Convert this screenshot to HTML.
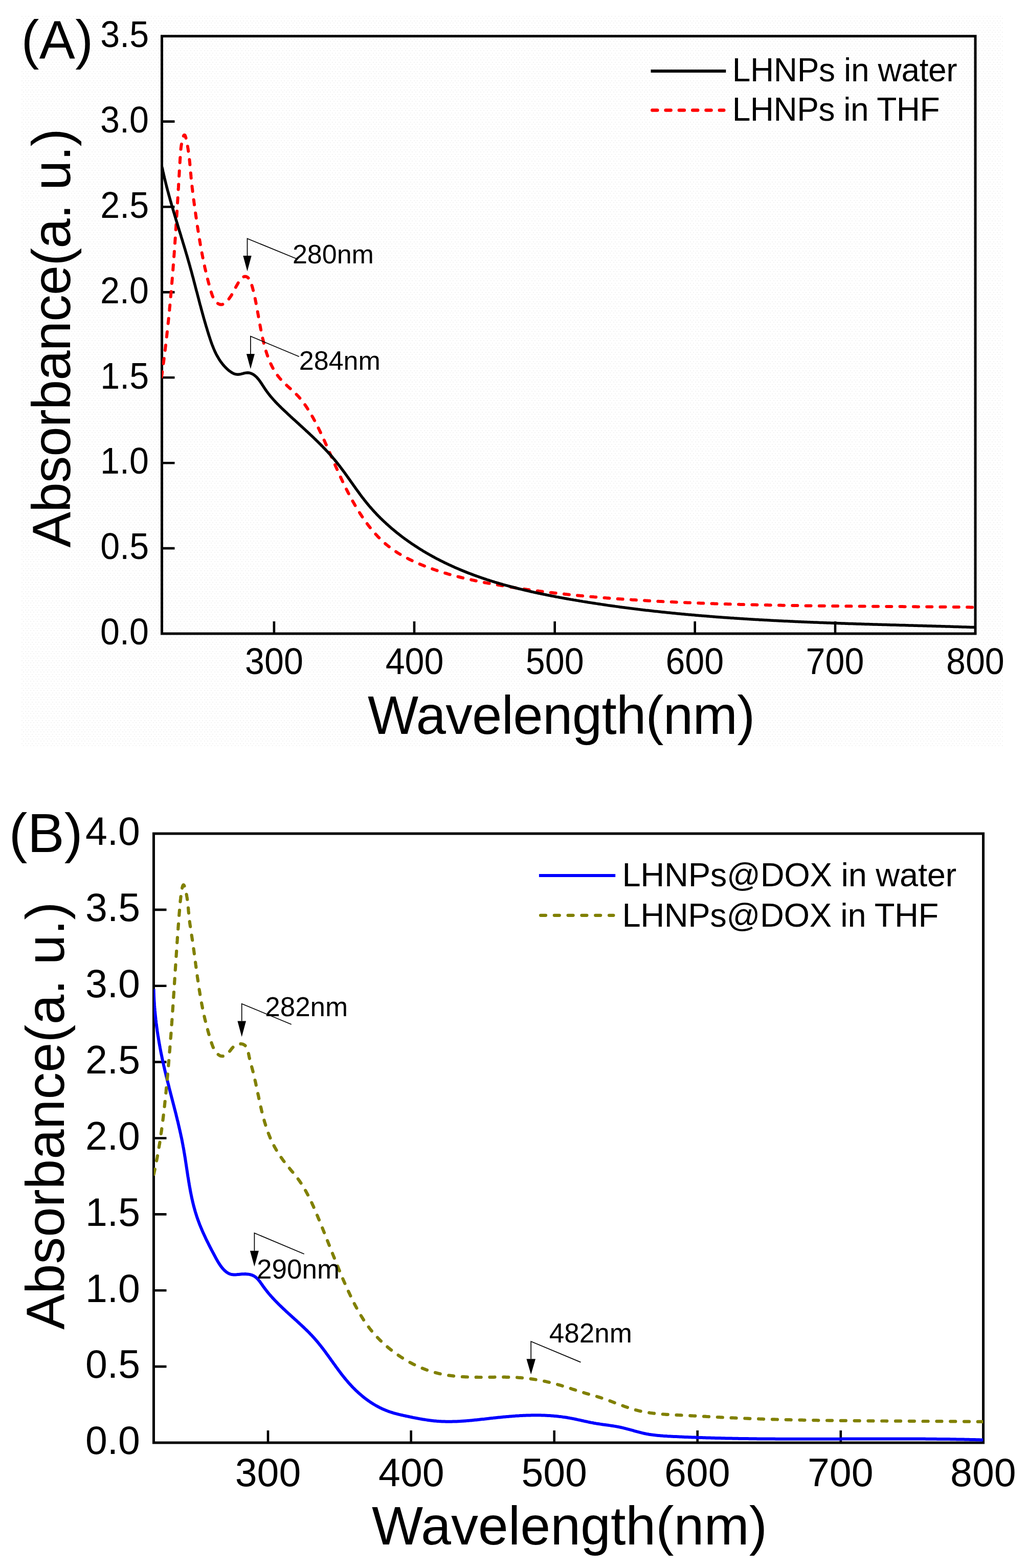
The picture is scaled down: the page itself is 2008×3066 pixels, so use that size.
<!DOCTYPE html>
<html><head><meta charset="utf-8"><title>UV-Vis absorbance spectra</title>
<style>html,body{margin:0;padding:0;background:#fff;}svg{display:block;}</style></head>
<body>
<svg width="2008" height="3066" viewBox="0 0 2008 3066" font-family="Liberation Sans, Arial, sans-serif">
<rect x="0" y="0" width="2008" height="3066" fill="#ffffff"/><defs><pattern id="dots" patternUnits="userSpaceOnUse" x="42" y="31" width="20" height="9"><rect x="0" y="0" width="2" height="2" fill="#f3f3f3"/><rect x="7" y="0" width="2" height="2" fill="#f3f3f3"/><rect x="13" y="0" width="2" height="2" fill="#f3f3f3"/><rect x="3" y="4" width="2" height="2" fill="#f3f3f3"/><rect x="10" y="4" width="2" height="2" fill="#f3f3f3"/><rect x="17" y="4" width="2" height="2" fill="#f3f3f3"/></pattern></defs><rect x="42" y="31" width="1920" height="1431" fill="url(#dots)"/>
<g id="panelA">
<rect x="316.5" y="70.7" width="1590.5" height="1168.3" fill="none" stroke="#000" stroke-width="5"/>
<path d="M316.5,1072.1H341.5 M316.5,905.2H341.5 M316.5,738.3H341.5 M316.5,571.4H341.5 M316.5,404.5H341.5 M316.5,237.6H341.5 M535.9,1239V1215 M810,1239V1215 M1084.7,1239V1215 M1358.7,1239V1215 M1633,1239V1215" stroke="#000" stroke-width="4.6" fill="none"/>
<clipPath id="clipA"><rect x="316.5" y="70.7" width="1590.5" height="1168.3"/></clipPath>
<g clip-path="url(#clipA)" fill="none" stroke-linejoin="round">
<path d="M315.9,737.0 316.2,735.0 316.5,733.0 316.8,731.0 317.0,729.1 317.3,727.1 317.6,725.1 317.9,723.1 318.1,721.1 318.4,719.1 318.7,717.2 318.9,715.2 319.2,713.2 319.4,711.2 319.7,709.2 320.0,707.2 320.2,705.3 320.5,703.3 320.7,701.3 321.0,699.3 321.2,697.3 321.5,695.3 321.7,693.4 322.0,691.4 322.2,689.4 322.5,687.4 322.7,685.4 322.9,683.4 323.2,681.4 323.4,679.5 323.7,677.5 323.9,675.5 324.1,673.5 324.4,671.5 324.6,669.5 324.8,667.6 325.1,665.6 325.3,663.6 325.5,661.6 325.7,659.6 326.0,657.6 326.2,655.6 326.4,653.7 326.6,651.7 326.8,649.7 327.1,647.7 327.3,645.7 327.5,643.7 327.7,641.7 327.9,639.8 328.1,637.8 328.3,635.8 328.5,633.8 328.8,631.8 329.0,629.8 329.2,627.8 329.4,625.9 329.6,623.9 329.8,621.9 330.0,619.9 330.2,617.9 330.4,615.9 330.6,613.9 330.8,611.9 331.0,610.0 331.2,608.0 331.4,606.0 331.5,604.0 331.7,602.0 331.9,600.0 332.1,598.0 332.3,596.0 332.5,594.1 332.7,592.1 332.9,590.1 333.0,588.1 333.2,586.1 333.4,584.1 333.6,582.1 333.8,580.1 333.9,578.1 334.1,576.2 334.3,574.2 334.5,572.2 334.7,570.2 334.8,568.2 335.0,566.2 335.2,564.2 335.3,562.2 335.5,560.2 335.7,558.2 335.8,556.3 336.0,554.3 336.2,552.3 336.3,550.3 336.5,548.3 336.7,546.3 336.8,544.3 337.0,542.3 337.2,540.3 337.3,538.3 337.5,536.3 337.6,534.4 337.8,532.4 338.0,530.4 338.1,528.4 338.3,526.4 338.4,524.4 338.6,522.4 338.7,520.4 338.9,518.4 339.0,516.4 339.2,514.4 339.3,512.4 339.5,510.4 339.6,508.5 339.8,506.5 339.9,504.5 340.1,502.5 340.2,500.5 340.4,498.5 340.5,496.5 340.7,494.5 340.8,492.5 341.0,490.5 341.1,488.5 341.2,486.5 341.4,484.5 341.5,482.5 341.7,480.5 341.8,478.5 341.9,476.5 342.1,474.6 342.2,472.6 342.3,470.6 342.5,468.6 342.6,466.6 342.8,464.6 342.9,462.6 343.0,460.6 343.2,458.6 343.3,456.6 343.4,454.6 343.6,452.6 343.7,450.6 343.8,448.6 343.9,446.6 344.1,444.6 344.2,442.6 344.3,440.6 344.5,438.6 344.6,436.6 344.7,434.6 344.8,432.6 345.0,430.6 345.1,428.6 345.2,426.6 345.4,424.6 345.5,422.6 345.6,420.6 345.7,418.6 345.9,416.6 346.0,414.6 346.1,412.6 346.2,410.6 346.3,408.6 346.5,406.6 346.6,404.6 346.7,402.6 346.8,400.6 347.0,398.7 347.1,396.7 347.2,394.6 347.3,392.6 347.4,390.6 347.6,388.6 347.7,386.6 347.8,384.6 347.9,382.6 348.0,380.6 348.1,378.6 348.3,376.6 348.4,374.6 348.5,372.6 348.6,370.6 348.7,368.6 348.9,366.7 349.0,364.7 349.1,362.7 349.2,360.7 349.3,358.7 349.4,356.7 349.6,354.7 349.7,352.7 349.8,350.7 349.9,348.7 350.0,346.7 350.1,344.7 350.3,342.8 350.4,340.8 350.5,338.8 350.6,336.8 350.7,334.8 350.8,332.9 351.0,330.9 351.1,328.9 351.2,326.9 351.3,325.0 351.4,323.0 351.5,321.0 351.7,319.1 351.8,317.1 351.9,315.2 352.0,313.2 352.1,311.3 352.2,309.3 352.4,307.4 352.5,305.4 352.6,303.5 352.7,301.6 352.9,299.6 353.0,297.6 353.2,295.6 353.4,293.6 353.6,291.5 353.8,289.3 354.1,287.2 354.4,284.9 354.8,282.6 355.2,280.2 355.7,277.7 356.2,275.2 356.7,272.9 357.3,270.6 357.9,268.6 358.5,266.8 359.1,265.4 359.7,264.4 360.3,263.9 360.9,263.9 361.5,264.4 362.1,265.4 362.6,266.8 363.2,268.6 363.7,270.5 364.2,272.7 364.7,274.9 365.1,277.1 365.6,279.3 366.0,281.5 366.4,283.7 366.8,285.8 367.1,288.0 367.5,290.1 367.8,292.2 368.1,294.3 368.4,296.4 368.7,298.4 369.0,300.5 369.3,302.5 369.5,304.5 369.8,306.6 370.0,308.6 370.2,310.6 370.5,312.6 370.7,314.5 370.9,316.5 371.1,318.5 371.2,320.4 371.4,322.4 371.6,324.3 371.8,326.3 372.0,328.2 372.1,330.2 372.3,332.1 372.5,334.1 372.7,336.0 372.8,338.0 373.0,339.9 373.2,341.8 373.4,343.8 373.5,345.7 373.7,347.7 373.9,349.6 374.1,351.6 374.3,353.6 374.5,355.5 374.7,357.5 375.0,359.5 375.2,361.4 375.4,363.4 375.6,365.4 375.8,367.4 376.1,369.4 376.3,371.4 376.5,373.3 376.8,375.3 377.0,377.3 377.3,379.3 377.5,381.3 377.8,383.3 378.0,385.3 378.3,387.3 378.5,389.3 378.8,391.3 379.1,393.3 379.3,395.3 379.6,397.3 379.9,399.3 380.1,401.3 380.4,403.3 380.7,405.3 381.0,407.3 381.2,409.3 381.5,411.3 381.8,413.3 382.1,415.3 382.4,417.3 382.6,419.3 382.9,421.3 383.2,423.2 383.5,425.2 383.8,427.2 384.1,429.2 384.4,431.2 384.6,433.2 384.9,435.2 385.2,437.1 385.5,439.1 385.8,441.1 386.1,443.1 386.4,445.1 386.7,447.0 387.0,449.0 387.3,451.0 387.6,453.0 387.9,454.9 388.3,456.9 388.6,458.9 388.9,460.8 389.2,462.8 389.5,464.8 389.8,466.7 390.2,468.7 390.5,470.7 390.8,472.6 391.2,474.6 391.5,476.6 391.8,478.5 392.2,480.5 392.5,482.4 392.9,484.4 393.2,486.4 393.6,488.3 393.9,490.3 394.3,492.2 394.7,494.2 395.0,496.1 395.4,498.1 395.8,500.0 396.2,502.0 396.5,503.9 396.9,505.9 397.3,507.8 397.7,509.8 398.1,511.7 398.5,513.7 399.0,515.6 399.4,517.6 399.8,519.5 400.2,521.5 400.6,523.4 401.1,525.4 401.5,527.3 402.0,529.3 402.4,531.2 402.9,533.1 403.3,535.1 403.8,537.0 404.3,539.0 404.7,540.9 405.2,542.9 405.7,544.8 406.2,546.8 406.7,548.7 407.2,550.6 407.7,552.6 408.3,554.5 408.8,556.5 409.3,558.4 409.9,560.4 410.4,562.3 410.9,564.3 411.5,566.2 412.1,568.1 412.6,570.1 413.2,572.0 413.8,574.0 414.5,575.9 415.1,577.8 415.9,579.7 416.6,581.5 417.5,583.3 418.5,585.0 419.5,586.7 420.7,588.3 422.0,589.8 423.5,591.3 425.0,592.6 426.6,593.8 428.3,594.7 430.1,595.3 431.8,595.6 433.5,595.5 435.2,595.1 436.9,594.4 438.5,593.5 440.2,592.4 441.7,591.1 443.3,589.6 444.7,588.0 446.1,586.3 447.5,584.6 448.8,582.8 450.0,581.1 451.2,579.4 452.3,577.7 453.3,576.0 454.3,574.3 455.2,572.6 456.1,571.0 457.0,569.3 457.9,567.6 458.8,565.9 459.7,564.2 460.6,562.5 461.5,560.7 462.5,558.8 463.6,556.9 464.7,555.0 465.8,553.0 467.0,551.1 468.3,549.2 469.6,547.4 470.9,545.8 472.3,544.3 473.7,543.0 475.1,541.9 476.6,541.2 478.1,540.7 479.7,540.6 481.2,540.8 482.6,541.4 484.0,542.2 485.2,543.3 486.4,544.6 487.5,546.1 488.5,547.8 489.4,549.7 490.2,551.6 491.0,553.7 491.8,555.8 492.4,558.0 493.1,560.2 493.7,562.4 494.3,564.6 494.8,566.7 495.3,568.8 495.8,570.8 496.3,572.8 496.8,574.8 497.2,576.7 497.7,578.6 498.1,580.5 498.5,582.4 498.9,584.3 499.3,586.2 499.6,588.1 500.0,590.0 500.4,591.8 500.7,593.7 501.1,595.6 501.5,597.6 501.8,599.5 502.2,601.4 502.5,603.3 502.9,605.2 503.2,607.2 503.6,609.1 503.9,611.0 504.3,613.0 504.6,614.9 505.0,616.9 505.3,618.8 505.6,620.8 506.0,622.7 506.3,624.7 506.7,626.6 507.1,628.6 507.4,630.6 507.8,632.5 508.1,634.5 508.5,636.5 508.9,638.5 509.2,640.4 509.6,642.4 510.0,644.4 510.4,646.4 510.8,648.3 511.2,650.3 511.6,652.3 512.0,654.3 512.4,656.2 512.9,658.2 513.3,660.2 513.7,662.2 514.2,664.1 514.7,666.1 515.1,668.1 515.6,670.0 516.1,672.0 516.6,674.0 517.1,675.9 517.6,677.9 518.1,679.9 518.7,681.8 519.3,683.7 519.8,685.7 520.4,687.6 521.0,689.5 521.6,691.4 522.3,693.4 522.9,695.3 523.6,697.2 524.3,699.0 525.0,700.9 525.7,702.8 526.4,704.6 527.2,706.5 528.0,708.3 528.8,710.1 529.6,711.9 530.5,713.7 531.3,715.5 532.2,717.2 533.1,719.0 534.1,720.7 535.1,722.4 536.0,724.1 537.1,725.8 538.1,727.5 539.2,729.1 540.3,730.8 541.4,732.4 542.6,734.0 543.7,735.5 545.0,737.1 546.2,738.6 547.5,740.1 548.8,741.6 550.1,743.1 551.5,744.5 552.9,746.0 554.3,747.4 555.7,748.8 557.1,750.2 558.6,751.6 560.0,753.0 561.5,754.4 563.0,755.7 564.5,757.1 566.0,758.5 567.5,759.8 569.0,761.2 570.5,762.6 572.0,763.9 573.5,765.3 574.9,766.7 576.4,768.1 577.8,769.5 579.3,770.9 580.7,772.4 582.1,773.8 583.5,775.3 584.8,776.8 586.1,778.3 587.4,779.8 588.7,781.3 589.9,782.9 591.2,784.5 592.4,786.1 593.6,787.7 594.7,789.3 595.9,790.9 597.0,792.5 598.2,794.2 599.3,795.8 600.4,797.5 601.4,799.2 602.5,800.9 603.6,802.5 604.6,804.2 605.7,805.9 606.7,807.6 607.7,809.4 608.7,811.1 609.7,812.8 610.7,814.5 611.7,816.3 612.7,818.0 613.6,819.8 614.6,821.5 615.5,823.3 616.5,825.0 617.4,826.8 618.3,828.6 619.2,830.3 620.1,832.1 621.0,833.9 621.9,835.7 622.8,837.5 623.7,839.3 624.5,841.1 625.4,842.9 626.3,844.7 627.1,846.5 628.0,848.3 628.8,850.1 629.7,851.9 630.5,853.7 631.4,855.5 632.2,857.4 633.0,859.2 633.9,861.0 634.7,862.8 635.5,864.6 636.3,866.5 637.1,868.3 638.0,870.1 638.8,872.0 639.6,873.8 640.4,875.6 641.2,877.4 642.0,879.3 642.8,881.1 643.6,882.9 644.4,884.8 645.2,886.6 646.0,888.4 646.8,890.3 647.6,892.1 648.5,893.9 649.3,895.8 650.1,897.6 650.9,899.4 651.7,901.2 652.5,903.1 653.3,904.9 654.1,906.7 654.9,908.6 655.7,910.4 656.5,912.2 657.3,914.0 658.2,915.9 659.0,917.7 659.8,919.5 660.6,921.3 661.4,923.2 662.3,925.0 663.1,926.8 663.9,928.6 664.8,930.4 665.6,932.2 666.4,934.1 667.3,935.9 668.1,937.7 669.0,939.5 669.8,941.3 670.7,943.1 671.6,944.9 672.4,946.7 673.3,948.5 674.2,950.3 675.0,952.1 675.9,953.8 676.8,955.6 677.7,957.4 678.6,959.2 679.5,961.0 680.4,962.7 681.3,964.5 682.3,966.3 683.2,968.1 684.1,969.8 685.0,971.6 686.0,973.3 686.9,975.1 687.9,976.8 688.9,978.6 689.8,980.3 690.8,982.1 691.8,983.8 692.8,985.5 693.8,987.3 694.8,989.0 695.8,990.7 696.8,992.4 697.9,994.1 698.9,995.8 699.9,997.6 701.0,999.3 702.1,1000.9 703.1,1002.6 704.2,1004.3 705.3,1006.0 706.4,1007.7 707.5,1009.4 708.6,1011.0 709.7,1012.7 710.9,1014.3 712.0,1016.0 713.2,1017.6 714.3,1019.3 715.5,1020.9 716.7,1022.5 717.9,1024.2 719.1,1025.8 720.3,1027.4 721.5,1029.0 722.8,1030.5 724.0,1032.1 725.3,1033.7 726.5,1035.2 727.8,1036.8 729.1,1038.3 730.4,1039.8 731.7,1041.4 733.0,1042.9 734.4,1044.4 735.7,1045.8 737.1,1047.3 738.4,1048.8 739.8,1050.2 741.2,1051.6 742.6,1053.1 744.0,1054.5 745.5,1055.9 746.9,1057.2 748.4,1058.6 749.8,1059.9 751.3,1061.3 752.8,1062.6 754.3,1063.9 755.8,1065.2 757.4,1066.4 758.9,1067.7 760.5,1068.9 762.0,1070.1 763.6,1071.3 765.2,1072.5 766.8,1073.7 768.4,1074.9 770.1,1076.0 771.7,1077.1 773.4,1078.2 775.0,1079.3 776.7,1080.4 778.4,1081.5 780.1,1082.5 781.8,1083.5 783.5,1084.6 785.2,1085.6 787.0,1086.6 788.7,1087.5 790.5,1088.5 792.2,1089.5 794.0,1090.4 795.8,1091.3 797.5,1092.2 799.3,1093.2 801.1,1094.0 802.9,1094.9 804.7,1095.8 806.6,1096.7 808.4,1097.5 810.2,1098.3 812.0,1099.2 813.9,1100.0 815.7,1100.8 817.5,1101.6 819.4,1102.4 821.2,1103.2 823.1,1103.9 825.0,1104.7 826.8,1105.4 828.7,1106.2 830.5,1106.9 832.4,1107.6 834.3,1108.4 836.2,1109.1 838.0,1109.8 839.9,1110.5 841.8,1111.2 843.7,1111.8 845.6,1112.5 847.4,1113.2 849.3,1113.8 851.2,1114.5 853.1,1115.1 855.0,1115.8 856.9,1116.4 858.8,1117.0 860.7,1117.6 862.6,1118.2 864.5,1118.8 866.4,1119.4 868.3,1120.0 870.2,1120.6 872.2,1121.1 874.1,1121.7 876.0,1122.3 877.9,1122.8 879.8,1123.4 881.7,1123.9 883.7,1124.4 885.6,1125.0 887.5,1125.5 889.4,1126.0 891.4,1126.5 893.3,1127.0 895.2,1127.5 897.2,1128.0 899.1,1128.5 901.0,1129.0 903.0,1129.5 904.9,1129.9 906.9,1130.4 908.8,1130.9 910.8,1131.3 912.7,1131.8 914.6,1132.2 916.6,1132.7 918.5,1133.1 920.5,1133.5 922.4,1134.0 924.4,1134.4 926.4,1134.8 928.3,1135.2 930.3,1135.6 932.2,1136.0 934.2,1136.5 936.1,1136.9 938.1,1137.2 940.1,1137.6 942.0,1138.0 944.0,1138.4 945.9,1138.8 947.9,1139.2 949.9,1139.5 951.8,1139.9 953.8,1140.3 955.8,1140.6 957.7,1141.0 959.7,1141.4 961.7,1141.7 963.6,1142.1 965.6,1142.4 967.6,1142.8 969.5,1143.1 971.5,1143.4 973.5,1143.8 975.5,1144.1 977.4,1144.4 979.4,1144.8 981.4,1145.1 983.3,1145.4 985.3,1145.8 987.3,1146.1 989.3,1146.4 991.2,1146.7 993.2,1147.0 995.2,1147.4 997.2,1147.7 999.1,1148.0 1001.1,1148.3 1003.1,1148.6 1005.1,1148.9 1007.0,1149.2 1009.0,1149.5 1011.0,1149.8 1013.0,1150.1 1015.0,1150.4 1016.9,1150.7 1018.9,1151.0 1020.9,1151.3 1022.9,1151.5 1024.8,1151.8 1026.8,1152.1 1028.8,1152.4 1030.8,1152.7 1032.8,1152.9 1034.7,1153.2 1036.7,1153.5 1038.7,1153.8 1040.7,1154.0 1042.7,1154.3 1044.6,1154.6 1046.6,1154.8 1048.6,1155.1 1050.6,1155.4 1052.6,1155.6 1054.5,1155.9 1056.5,1156.1 1058.5,1156.4 1060.5,1156.6 1062.5,1156.9 1064.5,1157.1 1066.4,1157.4 1068.4,1157.6 1070.4,1157.9 1072.4,1158.1 1074.4,1158.3 1076.4,1158.6 1078.3,1158.8 1080.3,1159.0 1082.3,1159.3 1084.3,1159.5 1086.3,1159.7 1088.3,1160.0 1090.3,1160.2 1092.2,1160.4 1094.2,1160.6 1096.2,1160.9 1098.2,1161.1 1100.2,1161.3 1102.2,1161.5 1104.2,1161.7 1106.1,1161.9 1108.1,1162.1 1110.1,1162.4 1112.1,1162.6 1114.1,1162.8 1116.1,1163.0 1118.1,1163.2 1120.1,1163.4 1122.0,1163.6 1124.0,1163.8 1126.0,1164.0 1128.0,1164.2 1130.0,1164.4 1132.0,1164.6 1134.0,1164.7 1136.0,1164.9 1138.0,1165.1 1139.9,1165.3 1141.9,1165.5 1143.9,1165.7 1145.9,1165.9 1147.9,1166.0 1149.9,1166.2 1151.9,1166.4 1153.9,1166.6 1155.9,1166.8 1157.9,1166.9 1159.9,1167.1 1161.8,1167.3 1163.8,1167.4 1165.8,1167.6 1167.8,1167.8 1169.8,1168.0 1171.8,1168.1 1173.8,1168.3 1175.8,1168.4 1177.8,1168.6 1179.8,1168.8 1181.8,1168.9 1183.8,1169.1 1185.8,1169.2 1187.7,1169.4 1189.7,1169.5 1191.7,1169.7 1193.7,1169.9 1195.7,1170.0 1197.7,1170.1 1199.7,1170.3 1201.7,1170.4 1203.7,1170.6 1205.7,1170.7 1207.7,1170.9 1209.7,1171.0 1211.7,1171.2 1213.7,1171.3 1215.7,1171.4 1217.7,1171.6 1219.6,1171.7 1221.6,1171.8 1223.6,1172.0 1225.6,1172.1 1227.6,1172.2 1229.6,1172.4 1231.6,1172.5 1233.6,1172.6 1235.6,1172.8 1237.6,1172.9 1239.6,1173.0 1241.6,1173.1 1243.6,1173.3 1245.6,1173.4 1247.6,1173.5 1249.6,1173.6 1251.6,1173.8 1253.6,1173.9 1255.6,1174.0 1257.6,1174.1 1259.6,1174.2 1261.6,1174.3 1263.5,1174.5 1265.5,1174.6 1267.5,1174.7 1269.5,1174.8 1271.5,1174.9 1273.5,1175.0 1275.5,1175.1 1277.5,1175.2 1279.5,1175.3 1281.5,1175.4 1283.5,1175.5 1285.5,1175.7 1287.5,1175.8 1289.5,1175.9 1291.5,1176.0 1293.5,1176.1 1295.5,1176.2 1297.5,1176.3 1299.5,1176.4 1301.5,1176.5 1303.5,1176.6 1305.5,1176.7 1307.5,1176.8 1309.5,1176.9 1311.5,1176.9 1313.5,1177.0 1315.5,1177.1 1317.5,1177.2 1319.5,1177.3 1321.5,1177.4 1323.4,1177.5 1325.4,1177.6 1327.4,1177.7 1329.4,1177.8 1331.4,1177.9 1333.4,1177.9 1335.4,1178.0 1337.4,1178.1 1339.4,1178.2 1341.4,1178.3 1343.4,1178.4 1345.4,1178.5 1347.4,1178.5 1349.4,1178.6 1351.4,1178.7 1353.4,1178.8 1355.4,1178.9 1357.4,1178.9 1359.4,1179.0 1361.4,1179.1 1363.4,1179.2 1365.4,1179.2 1367.4,1179.3 1369.4,1179.4 1371.4,1179.5 1373.4,1179.5 1375.4,1179.6 1377.4,1179.7 1379.4,1179.8 1381.4,1179.8 1383.4,1179.9 1385.4,1180.0 1387.4,1180.0 1389.4,1180.1 1391.4,1180.2 1393.4,1180.3 1395.4,1180.3 1397.3,1180.4 1399.3,1180.5 1401.3,1180.5 1403.3,1180.6 1405.3,1180.6 1407.3,1180.7 1409.3,1180.8 1411.3,1180.8 1413.3,1180.9 1415.3,1181.0 1417.3,1181.0 1419.3,1181.1 1421.3,1181.1 1423.3,1181.2 1425.3,1181.3 1427.3,1181.3 1429.3,1181.4 1431.3,1181.4 1433.3,1181.5 1435.3,1181.5 1437.3,1181.6 1439.3,1181.7 1441.3,1181.7 1443.3,1181.8 1445.3,1181.8 1447.3,1181.9 1449.3,1181.9 1451.3,1182.0 1453.3,1182.0 1455.3,1182.1 1457.3,1182.1 1459.3,1182.2 1461.3,1182.2 1463.3,1182.3 1465.3,1182.3 1467.3,1182.4 1469.3,1182.4 1471.3,1182.5 1473.3,1182.5 1475.3,1182.6 1477.3,1182.6 1479.3,1182.7 1481.3,1182.7 1483.3,1182.7 1485.3,1182.8 1487.3,1182.8 1489.3,1182.9 1491.3,1182.9 1493.2,1183.0 1495.2,1183.0 1497.2,1183.0 1499.2,1183.1 1501.2,1183.1 1503.2,1183.2 1505.2,1183.2 1507.2,1183.2 1509.2,1183.3 1511.2,1183.3 1513.2,1183.4 1515.2,1183.4 1517.2,1183.4 1519.2,1183.5 1521.2,1183.5 1523.2,1183.5 1525.2,1183.6 1527.2,1183.6 1529.2,1183.7 1531.2,1183.7 1533.2,1183.7 1535.2,1183.8 1537.2,1183.8 1539.2,1183.8 1541.2,1183.9 1543.2,1183.9 1545.2,1183.9 1547.2,1184.0 1549.2,1184.0 1551.2,1184.0 1553.2,1184.0 1555.2,1184.1 1557.2,1184.1 1559.2,1184.1 1561.2,1184.2 1563.2,1184.2 1565.2,1184.2 1567.2,1184.3 1569.2,1184.3 1571.2,1184.3 1573.2,1184.3 1575.2,1184.4 1577.2,1184.4 1579.2,1184.4 1581.2,1184.4 1583.2,1184.5 1585.2,1184.5 1587.2,1184.5 1589.2,1184.6 1591.2,1184.6 1593.2,1184.6 1595.2,1184.6 1597.2,1184.7 1599.2,1184.7 1601.2,1184.7 1603.2,1184.7 1605.2,1184.7 1607.2,1184.8 1609.2,1184.8 1611.2,1184.8 1613.2,1184.8 1615.2,1184.9 1617.2,1184.9 1619.2,1184.9 1621.2,1184.9 1623.2,1184.9 1625.2,1185.0 1627.2,1185.0 1629.2,1185.0 1631.2,1185.0 1633.2,1185.1 1635.1,1185.1 1637.1,1185.1 1639.1,1185.1 1641.1,1185.1 1643.1,1185.2 1645.1,1185.2 1647.1,1185.2 1649.1,1185.2 1651.1,1185.2 1653.1,1185.2 1655.1,1185.3 1657.1,1185.3 1659.1,1185.3 1661.1,1185.3 1663.1,1185.3 1665.1,1185.4 1667.1,1185.4 1669.1,1185.4 1671.1,1185.4 1673.1,1185.4 1675.1,1185.4 1677.1,1185.5 1679.1,1185.5 1681.1,1185.5 1683.1,1185.5 1685.1,1185.5 1687.1,1185.5 1689.1,1185.6 1691.1,1185.6 1693.1,1185.6 1695.1,1185.6 1697.1,1185.6 1699.1,1185.6 1701.1,1185.7 1703.1,1185.7 1705.1,1185.7 1707.1,1185.7 1709.1,1185.7 1711.1,1185.7 1713.1,1185.8 1715.1,1185.8 1717.1,1185.8 1719.1,1185.8 1721.1,1185.8 1723.1,1185.8 1725.1,1185.8 1727.1,1185.9 1729.1,1185.9 1731.1,1185.9 1733.1,1185.9 1735.1,1185.9 1737.1,1185.9 1739.1,1186.0 1741.1,1186.0 1743.1,1186.0 1745.1,1186.0 1747.1,1186.0 1749.1,1186.0 1751.1,1186.0 1753.1,1186.1 1755.1,1186.1 1757.1,1186.1 1759.1,1186.1 1761.1,1186.1 1763.1,1186.1 1765.1,1186.1 1767.1,1186.2 1769.1,1186.2 1771.1,1186.2 1773.1,1186.2 1775.1,1186.2 1777.1,1186.2 1779.1,1186.3 1781.1,1186.3 1783.1,1186.3 1785.1,1186.3 1787.1,1186.3 1789.1,1186.3 1791.1,1186.3 1793.1,1186.4 1795.1,1186.4 1797.1,1186.4 1799.1,1186.4 1801.1,1186.4 1803.1,1186.4 1805.1,1186.5 1807.1,1186.5 1809.1,1186.5 1811.1,1186.5 1813.1,1186.5 1815.1,1186.5 1817.1,1186.6 1819.1,1186.6 1821.0,1186.6 1823.0,1186.6 1825.0,1186.6 1827.0,1186.6 1829.0,1186.7 1831.0,1186.7 1833.0,1186.7 1835.0,1186.7 1837.0,1186.7 1839.0,1186.8 1841.0,1186.8 1843.0,1186.8 1845.0,1186.8 1847.0,1186.8 1849.0,1186.8 1851.0,1186.9 1853.0,1186.9 1855.0,1186.9 1857.0,1186.9 1859.0,1186.9 1861.0,1187.0 1863.0,1187.0 1865.0,1187.0 1867.0,1187.0 1869.0,1187.0 1871.0,1187.1 1873.0,1187.1 1875.0,1187.1 1877.0,1187.1 1879.0,1187.2 1881.0,1187.2 1883.0,1187.2 1885.0,1187.2 1887.0,1187.2 1889.0,1187.3 1891.0,1187.3 1893.0,1187.3 1895.0,1187.3 1897.0,1187.4 1899.0,1187.4 1901.0,1187.4 1903.0,1187.4 1905.0,1187.5 1907.0,1187.5" stroke="#ff0000" stroke-width="6" stroke-dasharray="10 16.3" stroke-linecap="round"/>
<path d="M316.8,326.4 317.2,328.4 317.7,330.3 318.1,332.3 318.5,334.2 318.9,336.1 319.4,338.1 319.8,340.0 320.2,342.0 320.7,343.9 321.2,345.9 321.6,347.8 322.1,349.8 322.5,351.7 323.0,353.6 323.5,355.6 324.0,357.5 324.4,359.5 324.9,361.4 325.4,363.3 325.9,365.3 326.4,367.2 326.9,369.1 327.4,371.1 327.9,373.0 328.5,374.9 329.0,376.9 329.5,378.8 330.0,380.7 330.5,382.6 331.1,384.6 331.6,386.5 332.1,388.4 332.7,390.4 333.2,392.3 333.8,394.2 334.3,396.1 334.9,398.1 335.4,400.0 336.0,401.9 336.5,403.8 337.1,405.7 337.7,407.7 338.2,409.6 338.8,411.5 339.3,413.4 339.9,415.3 340.5,417.3 341.1,419.2 341.6,421.1 342.2,423.0 342.8,424.9 343.4,426.9 343.9,428.8 344.5,430.7 345.1,432.6 345.7,434.5 346.3,436.4 346.8,438.4 347.4,440.3 348.0,442.2 348.6,444.1 349.2,446.0 349.8,447.9 350.3,449.9 350.9,451.8 351.5,453.7 352.1,455.6 352.7,457.5 353.3,459.4 353.9,461.4 354.4,463.3 355.0,465.2 355.6,467.1 356.2,469.0 356.8,470.9 357.3,472.8 357.9,474.8 358.5,476.7 359.1,478.6 359.7,480.5 360.2,482.4 360.8,484.3 361.4,486.3 362.0,488.2 362.5,490.1 363.1,492.0 363.7,493.9 364.2,495.8 364.8,497.8 365.4,499.7 365.9,501.6 366.5,503.5 367.0,505.4 367.6,507.4 368.1,509.3 368.7,511.2 369.2,513.1 369.8,515.0 370.3,517.0 370.9,518.9 371.4,520.8 371.9,522.7 372.5,524.7 373.0,526.6 373.5,528.5 374.1,530.4 374.6,532.4 375.1,534.3 375.6,536.2 376.1,538.1 376.6,540.1 377.2,542.0 377.7,543.9 378.2,545.8 378.7,547.8 379.2,549.7 379.7,551.6 380.2,553.5 380.7,555.5 381.2,557.4 381.7,559.3 382.2,561.3 382.7,563.2 383.2,565.1 383.7,567.0 384.2,569.0 384.8,570.9 385.3,572.8 385.8,574.8 386.3,576.7 386.8,578.6 387.3,580.6 387.8,582.5 388.3,584.4 388.8,586.3 389.3,588.3 389.8,590.2 390.3,592.1 390.8,594.1 391.3,596.0 391.9,597.9 392.4,599.9 392.9,601.8 393.4,603.7 393.9,605.6 394.5,607.6 395.0,609.5 395.5,611.4 396.0,613.4 396.6,615.3 397.1,617.2 397.6,619.1 398.2,621.1 398.7,623.0 399.3,624.9 399.8,626.8 400.4,628.8 400.9,630.7 401.5,632.6 402.1,634.5 402.6,636.5 403.2,638.4 403.8,640.3 404.4,642.2 404.9,644.2 405.5,646.1 406.1,648.0 406.7,649.9 407.3,651.9 407.9,653.8 408.5,655.7 409.1,657.6 409.8,659.5 410.4,661.5 411.0,663.4 411.7,665.3 412.3,667.2 413.0,669.1 413.6,671.0 414.3,672.9 415.0,674.7 415.8,676.6 416.5,678.5 417.2,680.3 418.0,682.2 418.8,684.0 419.6,685.8 420.4,687.7 421.3,689.5 422.1,691.2 423.0,693.0 424.0,694.8 424.9,696.5 425.9,698.2 426.9,699.9 427.9,701.6 428.9,703.3 430.0,704.9 431.1,706.6 432.3,708.2 433.5,709.8 434.7,711.3 435.9,712.9 437.2,714.4 438.5,715.9 439.9,717.3 441.3,718.8 442.8,720.2 444.2,721.6 445.8,723.0 447.3,724.3 448.9,725.6 450.6,726.8 452.3,727.9 454.0,729.0 455.8,729.9 457.6,730.7 459.4,731.4 461.3,731.8 463.2,732.1 465.1,732.2 467.1,732.1 469.1,731.8 471.1,731.4 473.1,730.9 475.1,730.4 477.0,729.8 479.0,729.4 480.9,729.1 482.8,728.9 484.7,728.8 486.5,729.0 488.3,729.3 490.0,729.8 491.7,730.4 493.4,731.2 495.0,732.1 496.5,733.1 498.0,734.2 499.5,735.5 500.9,736.8 502.3,738.1 503.6,739.6 504.9,741.1 506.2,742.7 507.4,744.3 508.6,745.9 509.7,747.6 510.9,749.3 512.0,751.0 513.1,752.8 514.3,754.5 515.4,756.2 516.5,758.0 517.7,759.7 518.8,761.4 520.0,763.1 521.2,764.8 522.4,766.4 523.6,768.1 524.8,769.7 526.1,771.3 527.3,772.9 528.6,774.4 529.9,776.0 531.2,777.5 532.5,779.0 533.8,780.5 535.1,782.0 536.4,783.4 537.8,784.9 539.1,786.4 540.5,787.8 541.9,789.2 543.3,790.6 544.7,792.0 546.0,793.4 547.5,794.8 548.9,796.2 550.3,797.6 551.7,799.0 553.1,800.4 554.6,801.7 556.0,803.1 557.5,804.4 558.9,805.8 560.3,807.1 561.8,808.5 563.3,809.9 564.7,811.2 566.2,812.6 567.6,813.9 569.1,815.3 570.6,816.6 572.0,817.9 573.5,819.3 575.0,820.6 576.5,822.0 577.9,823.3 579.4,824.7 580.9,826.0 582.4,827.4 583.9,828.7 585.3,830.1 586.8,831.4 588.3,832.8 589.8,834.1 591.3,835.5 592.7,836.8 594.2,838.2 595.7,839.5 597.2,840.9 598.6,842.3 600.1,843.6 601.6,845.0 603.0,846.4 604.5,847.7 606.0,849.1 607.4,850.5 608.9,851.8 610.4,853.2 611.8,854.6 613.3,856.0 614.7,857.4 616.2,858.8 617.6,860.2 619.0,861.6 620.5,863.0 621.9,864.4 623.3,865.8 624.8,867.2 626.2,868.6 627.6,870.0 629.0,871.5 630.4,872.9 631.8,874.3 633.2,875.8 634.6,877.2 636.0,878.6 637.3,880.1 638.7,881.6 640.1,883.0 641.4,884.5 642.8,886.0 644.1,887.5 645.4,888.9 646.8,890.4 648.1,891.9 649.4,893.4 650.7,894.9 652.0,896.5 653.3,898.0 654.6,899.5 655.8,901.1 657.1,902.6 658.4,904.2 659.6,905.7 660.8,907.3 662.1,908.9 663.3,910.4 664.5,912.0 665.7,913.6 666.9,915.2 668.1,916.8 669.3,918.4 670.5,920.0 671.7,921.6 672.9,923.2 674.1,924.8 675.2,926.4 676.4,928.1 677.6,929.7 678.7,931.3 679.9,932.9 681.1,934.6 682.2,936.2 683.4,937.8 684.5,939.5 685.7,941.1 686.8,942.7 688.0,944.4 689.2,946.0 690.3,947.6 691.5,949.3 692.6,950.9 693.8,952.5 694.9,954.1 696.1,955.8 697.3,957.4 698.4,959.0 699.6,960.6 700.8,962.2 702.0,963.9 703.2,965.5 704.3,967.1 705.5,968.7 706.7,970.3 707.9,971.9 709.1,973.5 710.4,975.0 711.6,976.6 712.8,978.2 714.1,979.8 715.3,981.3 716.6,982.9 717.8,984.4 719.1,985.9 720.4,987.5 721.6,989.0 722.9,990.5 724.2,992.0 725.6,993.5 726.9,995.0 728.2,996.5 729.5,998.0 730.9,999.5 732.2,1001.0 733.6,1002.4 735.0,1003.9 736.3,1005.3 737.7,1006.8 739.1,1008.2 740.5,1009.6 741.9,1011.0 743.3,1012.5 744.8,1013.9 746.2,1015.3 747.6,1016.7 749.1,1018.0 750.5,1019.4 752.0,1020.8 753.4,1022.1 754.9,1023.5 756.4,1024.9 757.9,1026.2 759.4,1027.5 760.9,1028.9 762.4,1030.2 763.9,1031.5 765.4,1032.8 766.9,1034.1 768.5,1035.4 770.0,1036.7 771.5,1038.0 773.1,1039.2 774.7,1040.5 776.2,1041.8 777.8,1043.0 779.4,1044.2 780.9,1045.5 782.5,1046.7 784.1,1047.9 785.7,1049.2 787.3,1050.4 788.9,1051.6 790.5,1052.8 792.1,1053.9 793.8,1055.1 795.4,1056.3 797.0,1057.5 798.7,1058.6 800.3,1059.8 802.0,1060.9 803.6,1062.1 805.3,1063.2 806.9,1064.3 808.6,1065.4 810.3,1066.5 812.0,1067.7 813.6,1068.7 815.3,1069.8 817.0,1070.9 818.7,1072.0 820.4,1073.1 822.1,1074.1 823.8,1075.2 825.5,1076.2 827.2,1077.3 828.9,1078.3 830.7,1079.3 832.4,1080.4 834.1,1081.4 835.9,1082.4 837.6,1083.4 839.3,1084.4 841.1,1085.4 842.8,1086.3 844.6,1087.3 846.3,1088.3 848.1,1089.2 849.8,1090.2 851.6,1091.1 853.3,1092.1 855.1,1093.0 856.9,1093.9 858.7,1094.8 860.4,1095.7 862.2,1096.6 864.0,1097.5 865.8,1098.4 867.6,1099.3 869.3,1100.2 871.1,1101.0 872.9,1101.9 874.7,1102.8 876.5,1103.6 878.3,1104.5 880.1,1105.3 881.9,1106.1 883.8,1107.0 885.6,1107.8 887.4,1108.6 889.2,1109.4 891.0,1110.2 892.8,1111.0 894.7,1111.8 896.5,1112.6 898.3,1113.3 900.2,1114.1 902.0,1114.9 903.8,1115.6 905.7,1116.4 907.5,1117.1 909.4,1117.9 911.2,1118.6 913.1,1119.4 914.9,1120.1 916.8,1120.8 918.6,1121.5 920.5,1122.2 922.3,1122.9 924.2,1123.6 926.1,1124.3 927.9,1125.0 929.8,1125.7 931.7,1126.4 933.5,1127.0 935.4,1127.7 937.3,1128.4 939.2,1129.0 941.1,1129.7 942.9,1130.3 944.8,1130.9 946.7,1131.6 948.6,1132.2 950.5,1132.8 952.4,1133.5 954.3,1134.1 956.2,1134.7 958.1,1135.3 960.0,1135.9 961.9,1136.5 963.8,1137.1 965.7,1137.7 967.6,1138.3 969.5,1138.8 971.4,1139.4 973.3,1140.0 975.2,1140.5 977.1,1141.1 979.1,1141.7 981.0,1142.2 982.9,1142.8 984.8,1143.3 986.7,1143.8 988.7,1144.4 990.6,1144.9 992.5,1145.4 994.4,1146.0 996.4,1146.5 998.3,1147.0 1000.2,1147.5 1002.2,1148.0 1004.1,1148.5 1006.0,1149.0 1008.0,1149.5 1009.9,1150.0 1011.8,1150.5 1013.8,1151.0 1015.7,1151.5 1017.7,1151.9 1019.6,1152.4 1021.6,1152.9 1023.5,1153.4 1025.5,1153.8 1027.4,1154.3 1029.4,1154.7 1031.3,1155.2 1033.3,1155.6 1035.2,1156.1 1037.2,1156.5 1039.1,1157.0 1041.1,1157.4 1043.0,1157.8 1045.0,1158.3 1046.9,1158.7 1048.9,1159.1 1050.9,1159.5 1052.8,1160.0 1054.8,1160.4 1056.8,1160.8 1058.7,1161.2 1060.7,1161.6 1062.6,1162.0 1064.6,1162.4 1066.6,1162.8 1068.5,1163.2 1070.5,1163.6 1072.5,1164.0 1074.4,1164.4 1076.4,1164.8 1078.4,1165.2 1080.4,1165.5 1082.3,1165.9 1084.3,1166.3 1086.3,1166.7 1088.2,1167.1 1090.2,1167.4 1092.2,1167.8 1094.2,1168.2 1096.1,1168.5 1098.1,1168.9 1100.1,1169.2 1102.0,1169.6 1104.0,1170.0 1106.0,1170.3 1108.0,1170.7 1109.9,1171.0 1111.9,1171.4 1113.9,1171.7 1115.9,1172.1 1117.9,1172.4 1119.8,1172.7 1121.8,1173.1 1123.8,1173.4 1125.8,1173.8 1127.7,1174.1 1129.7,1174.4 1131.7,1174.7 1133.7,1175.1 1135.6,1175.4 1137.6,1175.7 1139.6,1176.1 1141.6,1176.4 1143.6,1176.7 1145.5,1177.0 1147.5,1177.3 1149.5,1177.7 1151.5,1178.0 1153.4,1178.3 1155.4,1178.6 1157.4,1178.9 1159.4,1179.2 1161.4,1179.5 1163.3,1179.8 1165.3,1180.1 1167.3,1180.4 1169.3,1180.7 1171.3,1181.0 1173.2,1181.3 1175.2,1181.6 1177.2,1181.9 1179.2,1182.2 1181.2,1182.5 1183.1,1182.8 1185.1,1183.1 1187.1,1183.4 1189.1,1183.7 1191.1,1183.9 1193.0,1184.2 1195.0,1184.5 1197.0,1184.8 1199.0,1185.1 1201.0,1185.3 1202.9,1185.6 1204.9,1185.9 1206.9,1186.1 1208.9,1186.4 1210.9,1186.7 1212.9,1187.0 1214.8,1187.2 1216.8,1187.5 1218.8,1187.7 1220.8,1188.0 1222.8,1188.3 1224.8,1188.5 1226.7,1188.8 1228.7,1189.0 1230.7,1189.3 1232.7,1189.5 1234.7,1189.8 1236.7,1190.0 1238.6,1190.3 1240.6,1190.5 1242.6,1190.8 1244.6,1191.0 1246.6,1191.3 1248.6,1191.5 1250.5,1191.7 1252.5,1192.0 1254.5,1192.2 1256.5,1192.5 1258.5,1192.7 1260.5,1192.9 1262.4,1193.2 1264.4,1193.4 1266.4,1193.6 1268.4,1193.8 1270.4,1194.1 1272.4,1194.3 1274.4,1194.5 1276.3,1194.7 1278.3,1195.0 1280.3,1195.2 1282.3,1195.4 1284.3,1195.6 1286.3,1195.8 1288.3,1196.1 1290.3,1196.3 1292.2,1196.5 1294.2,1196.7 1296.2,1196.9 1298.2,1197.1 1300.2,1197.3 1302.2,1197.5 1304.2,1197.7 1306.1,1197.9 1308.1,1198.1 1310.1,1198.3 1312.1,1198.5 1314.1,1198.7 1316.1,1198.9 1318.1,1199.1 1320.1,1199.3 1322.1,1199.5 1324.0,1199.7 1326.0,1199.9 1328.0,1200.1 1330.0,1200.3 1332.0,1200.5 1334.0,1200.7 1336.0,1200.8 1338.0,1201.0 1340.0,1201.2 1341.9,1201.4 1343.9,1201.6 1345.9,1201.8 1347.9,1201.9 1349.9,1202.1 1351.9,1202.3 1353.9,1202.5 1355.9,1202.6 1357.9,1202.8 1359.8,1203.0 1361.8,1203.2 1363.8,1203.3 1365.8,1203.5 1367.8,1203.7 1369.8,1203.8 1371.8,1204.0 1373.8,1204.2 1375.8,1204.3 1377.8,1204.5 1379.8,1204.6 1381.7,1204.8 1383.7,1205.0 1385.7,1205.1 1387.7,1205.3 1389.7,1205.4 1391.7,1205.6 1393.7,1205.7 1395.7,1205.9 1397.7,1206.1 1399.7,1206.2 1401.7,1206.4 1403.7,1206.5 1405.6,1206.7 1407.6,1206.8 1409.6,1206.9 1411.6,1207.1 1413.6,1207.2 1415.6,1207.4 1417.6,1207.5 1419.6,1207.7 1421.6,1207.8 1423.6,1207.9 1425.6,1208.1 1427.6,1208.2 1429.6,1208.4 1431.5,1208.5 1433.5,1208.6 1435.5,1208.8 1437.5,1208.9 1439.5,1209.0 1441.5,1209.2 1443.5,1209.3 1445.5,1209.4 1447.5,1209.6 1449.5,1209.7 1451.5,1209.8 1453.5,1209.9 1455.5,1210.1 1457.5,1210.2 1459.5,1210.3 1461.4,1210.4 1463.4,1210.6 1465.4,1210.7 1467.4,1210.8 1469.4,1210.9 1471.4,1211.0 1473.4,1211.2 1475.4,1211.3 1477.4,1211.4 1479.4,1211.5 1481.4,1211.6 1483.4,1211.7 1485.4,1211.9 1487.4,1212.0 1489.4,1212.1 1491.4,1212.2 1493.4,1212.3 1495.4,1212.4 1497.4,1212.5 1499.3,1212.6 1501.3,1212.7 1503.3,1212.8 1505.3,1212.9 1507.3,1213.1 1509.3,1213.2 1511.3,1213.3 1513.3,1213.4 1515.3,1213.5 1517.3,1213.6 1519.3,1213.7 1521.3,1213.8 1523.3,1213.9 1525.3,1214.0 1527.3,1214.1 1529.3,1214.2 1531.3,1214.3 1533.3,1214.4 1535.3,1214.5 1537.3,1214.6 1539.3,1214.6 1541.3,1214.7 1543.3,1214.8 1545.3,1214.9 1547.3,1215.0 1549.2,1215.1 1551.2,1215.2 1553.2,1215.3 1555.2,1215.4 1557.2,1215.5 1559.2,1215.6 1561.2,1215.7 1563.2,1215.7 1565.2,1215.8 1567.2,1215.9 1569.2,1216.0 1571.2,1216.1 1573.2,1216.2 1575.2,1216.3 1577.2,1216.3 1579.2,1216.4 1581.2,1216.5 1583.2,1216.6 1585.2,1216.7 1587.2,1216.7 1589.2,1216.8 1591.2,1216.9 1593.2,1217.0 1595.2,1217.1 1597.2,1217.1 1599.2,1217.2 1601.2,1217.3 1603.2,1217.4 1605.2,1217.5 1607.2,1217.5 1609.2,1217.6 1611.2,1217.7 1613.2,1217.8 1615.2,1217.8 1617.2,1217.9 1619.2,1218.0 1621.2,1218.1 1623.2,1218.1 1625.2,1218.2 1627.2,1218.3 1629.1,1218.3 1631.1,1218.4 1633.1,1218.5 1635.1,1218.6 1637.1,1218.6 1639.1,1218.7 1641.1,1218.8 1643.1,1218.8 1645.1,1218.9 1647.1,1219.0 1649.1,1219.0 1651.1,1219.1 1653.1,1219.2 1655.1,1219.2 1657.1,1219.3 1659.1,1219.4 1661.1,1219.4 1663.1,1219.5 1665.1,1219.6 1667.1,1219.6 1669.1,1219.7 1671.1,1219.8 1673.1,1219.8 1675.1,1219.9 1677.1,1220.0 1679.1,1220.0 1681.1,1220.1 1683.1,1220.1 1685.1,1220.2 1687.1,1220.3 1689.1,1220.3 1691.1,1220.4 1693.1,1220.4 1695.1,1220.5 1697.1,1220.6 1699.1,1220.6 1701.1,1220.7 1703.1,1220.8 1705.1,1220.8 1707.1,1220.9 1709.1,1220.9 1711.1,1221.0 1713.1,1221.0 1715.1,1221.1 1717.1,1221.2 1719.1,1221.2 1721.1,1221.3 1723.1,1221.3 1725.1,1221.4 1727.1,1221.5 1729.1,1221.5 1731.1,1221.6 1733.1,1221.6 1735.1,1221.7 1737.1,1221.7 1739.1,1221.8 1741.1,1221.9 1743.1,1221.9 1745.1,1222.0 1747.1,1222.0 1749.1,1222.1 1751.1,1222.1 1753.1,1222.2 1755.1,1222.3 1757.1,1222.3 1759.1,1222.4 1761.1,1222.4 1763.1,1222.5 1765.1,1222.5 1767.1,1222.6 1769.1,1222.6 1771.1,1222.7 1773.1,1222.8 1775.1,1222.8 1777.1,1222.9 1779.1,1222.9 1781.1,1223.0 1783.1,1223.0 1785.1,1223.1 1787.1,1223.2 1789.1,1223.2 1791.1,1223.3 1793.1,1223.3 1795.1,1223.4 1797.1,1223.4 1799.1,1223.5 1801.1,1223.5 1803.1,1223.6 1805.1,1223.7 1807.1,1223.7 1809.1,1223.8 1811.1,1223.8 1813.1,1223.9 1815.1,1223.9 1817.1,1224.0 1819.1,1224.0 1821.1,1224.1 1823.1,1224.2 1825.1,1224.2 1827.1,1224.3 1829.1,1224.3 1831.1,1224.4 1833.1,1224.4 1835.1,1224.5 1837.1,1224.6 1839.1,1224.6 1841.1,1224.7 1843.1,1224.7 1845.1,1224.8 1847.1,1224.8 1849.1,1224.9 1851.1,1225.0 1853.1,1225.0 1855.1,1225.1 1857.1,1225.1 1859.1,1225.2 1861.1,1225.3 1863.1,1225.3 1865.1,1225.4 1867.1,1225.4 1869.1,1225.5 1871.1,1225.6 1873.1,1225.6 1875.1,1225.7 1877.1,1225.7 1879.1,1225.8 1881.0,1225.9 1883.0,1225.9 1885.0,1226.0 1887.0,1226.0 1889.0,1226.1 1891.0,1226.2 1893.0,1226.2 1895.0,1226.3 1897.0,1226.4 1899.0,1226.4 1901.0,1226.5 1903.0,1226.6 1905.0,1226.6 1907.0,1226.7" stroke="#000000" stroke-width="5.5"/>
</g>
<text transform="translate(196.1,1260.2) scale(0.947,1)" font-size="72">0.0</text>
<text transform="translate(196.3,1093.3) scale(0.947,1)" font-size="72">0.5</text>
<text transform="translate(196.1,926.4) scale(0.947,1)" font-size="72">1.0</text>
<text transform="translate(196.3,759.5) scale(0.947,1)" font-size="72">1.5</text>
<text transform="translate(196.1,592.6) scale(0.947,1)" font-size="72">2.0</text>
<text transform="translate(196.3,425.7) scale(0.947,1)" font-size="72">2.5</text>
<text transform="translate(196.1,258.8) scale(0.947,1)" font-size="72">3.0</text>
<text transform="translate(196.3,91.9) scale(0.947,1)" font-size="72">3.5</text>
<text transform="translate(479.1,1318.3) scale(0.947,1)" font-size="72">300</text>
<text transform="translate(753.7,1318.3) scale(0.947,1)" font-size="72">400</text>
<text transform="translate(1027.8,1318.3) scale(0.947,1)" font-size="72">500</text>
<text transform="translate(1301.4,1318.3) scale(0.947,1)" font-size="72">600</text>
<text transform="translate(1575.6,1318.3) scale(0.947,1)" font-size="72">700</text>
<text transform="translate(1850.0,1318.3) scale(0.947,1)" font-size="72">800</text>
<text x="41.6" y="113.5" font-size="105" textLength="140.5" lengthAdjust="spacing">(A)</text>
<text transform="translate(136.7,1070.8) rotate(-90)" x="0" y="0" font-size="105" textLength="819.6" lengthAdjust="spacing">Absorbance(a. u.)</text>
<text x="719.0" y="1434.9" font-size="105" textLength="757.3" lengthAdjust="spacing">Wavelength(nm)</text>
<path d="M1272.5,139H1419.3" stroke="#000000" stroke-width="6" fill="none"/>
<text x="1431.7" y="159.2" font-size="64" textLength="439.9" lengthAdjust="spacing">LHNPs in water</text>
<path d="M1275.3,215.4H1415.2" stroke="#ff0000" stroke-width="6.5" stroke-dasharray="10 16.3" stroke-linecap="round" fill="none"/>
<text x="1431.7" y="236.0" font-size="64" textLength="406.0" lengthAdjust="spacing">LHNPs in THF</text>
<path d="M579.3,505.8L483.5,466.4V500" stroke="#000" stroke-width="1.7" fill="none" stroke-linejoin="miter"/>
<path d="M475.3,500L491.7,500L483.5,530.4Z" fill="#000"/>
<text x="571.9" y="515.4" font-size="52">280nm</text>
<path d="M584.8,697.3L489.9,657.5V692.1" stroke="#000" stroke-width="1.7" fill="none" stroke-linejoin="miter"/>
<path d="M481.9,692.1L497.9,692.1L489.9,721.6Z" fill="#000"/>
<text x="584.8" y="722.9" font-size="52">284nm</text>
</g>
<g id="panelB">
<rect x="300.5" y="1630" width="1622.0" height="1191" fill="none" stroke="#000" stroke-width="5"/>
<path d="M300.5,2672.1H325.5 M300.5,2523.2H325.5 M300.5,2374.4H325.5 M300.5,2225.5H325.5 M300.5,2076.6H325.5 M300.5,1927.8H325.5 M300.5,1778.9H325.5 M524,2821V2797 M803.7,2821V2797 M1083.7,2821V2797 M1363.7,2821V2797 M1643.8,2821V2797" stroke="#000" stroke-width="4.6" fill="none"/>
<clipPath id="clipB"><rect x="300.5" y="1630" width="1622.0" height="1191"/></clipPath>
<g clip-path="url(#clipB)" fill="none" stroke-linejoin="round">
<path d="M300.6,1933.8 300.6,1935.8 300.7,1937.8 300.7,1939.8 300.8,1941.8 300.9,1943.8 300.9,1945.8 301.0,1947.8 301.1,1949.8 301.2,1951.8 301.3,1953.8 301.4,1955.8 301.5,1957.8 301.6,1959.8 301.8,1961.8 301.9,1963.7 302.0,1965.7 302.2,1967.7 302.3,1969.7 302.5,1971.7 302.7,1973.7 302.8,1975.7 303.0,1977.7 303.2,1979.7 303.4,1981.7 303.6,1983.7 303.8,1985.7 304.0,1987.7 304.2,1989.6 304.4,1991.6 304.6,1993.6 304.9,1995.6 305.1,1997.6 305.3,1999.6 305.6,2001.6 305.8,2003.5 306.1,2005.5 306.3,2007.5 306.6,2009.5 306.9,2011.5 307.2,2013.5 307.4,2015.4 307.7,2017.4 308.0,2019.4 308.3,2021.4 308.6,2023.4 308.9,2025.3 309.3,2027.3 309.6,2029.3 309.9,2031.3 310.2,2033.2 310.6,2035.2 310.9,2037.2 311.2,2039.1 311.6,2041.1 311.9,2043.1 312.3,2045.1 312.7,2047.0 313.0,2049.0 313.4,2051.0 313.8,2052.9 314.1,2054.9 314.5,2056.8 314.9,2058.8 315.3,2060.8 315.7,2062.7 316.1,2064.7 316.5,2066.6 316.9,2068.6 317.3,2070.6 317.7,2072.5 318.2,2074.5 318.6,2076.4 319.0,2078.4 319.5,2080.3 319.9,2082.3 320.3,2084.2 320.8,2086.2 321.2,2088.1 321.7,2090.1 322.1,2092.0 322.6,2093.9 323.1,2095.9 323.5,2097.8 324.0,2099.8 324.5,2101.7 324.9,2103.7 325.4,2105.6 325.9,2107.5 326.4,2109.5 326.8,2111.4 327.3,2113.3 327.8,2115.3 328.3,2117.2 328.8,2119.1 329.3,2121.1 329.8,2123.0 330.3,2124.9 330.7,2126.9 331.2,2128.8 331.7,2130.7 332.2,2132.7 332.7,2134.6 333.2,2136.5 333.7,2138.5 334.2,2140.4 334.7,2142.3 335.2,2144.3 335.7,2146.2 336.2,2148.1 336.7,2150.1 337.2,2152.0 337.7,2153.9 338.2,2155.8 338.7,2157.8 339.2,2159.7 339.7,2161.6 340.2,2163.6 340.7,2165.5 341.2,2167.4 341.7,2169.4 342.2,2171.3 342.7,2173.2 343.2,2175.2 343.7,2177.1 344.2,2179.0 344.6,2181.0 345.1,2182.9 345.6,2184.9 346.1,2186.8 346.5,2188.7 347.0,2190.7 347.5,2192.6 348.0,2194.5 348.4,2196.5 348.9,2198.4 349.3,2200.4 349.8,2202.3 350.2,2204.3 350.7,2206.2 351.1,2208.2 351.6,2210.1 352.0,2212.1 352.4,2214.0 352.9,2216.0 353.3,2217.9 353.7,2219.9 354.1,2221.8 354.6,2223.8 355.0,2225.7 355.4,2227.7 355.8,2229.7 356.2,2231.6 356.5,2233.6 356.9,2235.5 357.3,2237.5 357.7,2239.5 358.0,2241.5 358.4,2243.4 358.8,2245.4 359.1,2247.4 359.5,2249.3 359.8,2251.3 360.1,2253.3 360.5,2255.3 360.8,2257.3 361.1,2259.2 361.4,2261.2 361.8,2263.2 362.1,2265.2 362.4,2267.2 362.7,2269.2 363.0,2271.2 363.3,2273.1 363.6,2275.1 363.9,2277.1 364.2,2279.1 364.5,2281.1 364.8,2283.1 365.1,2285.1 365.4,2287.1 365.7,2289.0 366.0,2291.0 366.3,2293.0 366.6,2295.0 366.9,2297.0 367.2,2299.0 367.5,2301.0 367.9,2303.0 368.2,2304.9 368.5,2306.9 368.8,2308.9 369.1,2310.9 369.5,2312.9 369.8,2314.8 370.1,2316.8 370.5,2318.8 370.8,2320.8 371.2,2322.7 371.5,2324.7 371.9,2326.7 372.2,2328.6 372.6,2330.6 373.0,2332.6 373.4,2334.5 373.8,2336.5 374.2,2338.4 374.6,2340.4 375.0,2342.3 375.4,2344.3 375.9,2346.2 376.3,2348.2 376.7,2350.1 377.2,2352.0 377.7,2354.0 378.2,2355.9 378.6,2357.8 379.1,2359.7 379.7,2361.7 380.2,2363.6 380.7,2365.5 381.3,2367.4 381.8,2369.3 382.4,2371.2 383.0,2373.1 383.6,2375.0 384.2,2376.9 384.8,2378.8 385.4,2380.6 386.1,2382.5 386.7,2384.4 387.4,2386.3 388.1,2388.1 388.8,2390.0 389.5,2391.8 390.2,2393.7 390.9,2395.6 391.7,2397.4 392.4,2399.2 393.2,2401.1 394.0,2402.9 394.7,2404.8 395.5,2406.6 396.3,2408.4 397.1,2410.2 398.0,2412.1 398.8,2413.9 399.6,2415.7 400.5,2417.5 401.3,2419.3 402.2,2421.2 403.0,2423.0 403.9,2424.8 404.8,2426.6 405.7,2428.4 406.6,2430.2 407.5,2432.0 408.4,2433.8 409.3,2435.6 410.2,2437.4 411.1,2439.2 412.1,2441.0 413.0,2442.8 413.9,2444.6 414.9,2446.4 415.8,2448.2 416.8,2449.9 417.7,2451.7 418.7,2453.5 419.6,2455.3 420.6,2457.1 421.5,2458.9 422.5,2460.7 423.5,2462.5 424.5,2464.2 425.5,2466.0 426.5,2467.7 427.6,2469.5 428.7,2471.2 429.8,2472.8 430.9,2474.5 432.1,2476.1 433.3,2477.7 434.5,2479.3 435.8,2480.8 437.2,2482.3 438.6,2483.7 440.0,2485.0 441.5,2486.3 443.0,2487.5 444.6,2488.6 446.2,2489.5 447.9,2490.4 449.6,2491.1 451.3,2491.6 453.1,2492.0 455.0,2492.2 456.9,2492.4 458.8,2492.4 460.7,2492.4 462.7,2492.3 464.8,2492.1 466.8,2491.9 468.9,2491.7 470.9,2491.5 473.0,2491.3 475.1,2491.2 477.2,2491.2 479.3,2491.1 481.4,2491.2 483.5,2491.4 485.5,2491.6 487.5,2491.9 489.4,2492.3 491.3,2492.8 493.1,2493.4 494.9,2494.2 496.5,2495.0 498.1,2496.0 499.6,2497.1 501.1,2498.3 502.5,2499.6 503.8,2500.9 505.1,2502.3 506.3,2503.8 507.6,2505.4 508.8,2507.0 509.9,2508.6 511.1,2510.3 512.3,2511.9 513.4,2513.6 514.6,2515.2 515.8,2516.9 517.0,2518.5 518.2,2520.1 519.4,2521.7 520.7,2523.3 521.9,2524.9 523.2,2526.5 524.4,2528.0 525.7,2529.6 527.0,2531.1 528.3,2532.6 529.7,2534.1 531.0,2535.6 532.3,2537.1 533.7,2538.6 535.0,2540.0 536.4,2541.5 537.8,2543.0 539.2,2544.4 540.6,2545.8 542.0,2547.2 543.4,2548.7 544.8,2550.1 546.2,2551.5 547.6,2552.9 549.1,2554.3 550.5,2555.6 551.9,2557.0 553.4,2558.4 554.8,2559.8 556.3,2561.1 557.8,2562.5 559.2,2563.9 560.7,2565.2 562.2,2566.6 563.6,2567.9 565.1,2569.2 566.6,2570.6 568.1,2571.9 569.5,2573.3 571.0,2574.6 572.5,2576.0 574.0,2577.3 575.4,2578.6 576.9,2580.0 578.4,2581.3 579.9,2582.6 581.3,2584.0 582.8,2585.3 584.3,2586.7 585.7,2588.0 587.2,2589.4 588.7,2590.7 590.1,2592.1 591.6,2593.5 593.0,2594.8 594.5,2596.2 595.9,2597.6 597.3,2598.9 598.7,2600.3 600.2,2601.7 601.6,2603.1 603.0,2604.5 604.4,2605.9 605.7,2607.3 607.1,2608.8 608.5,2610.2 609.9,2611.6 611.2,2613.1 612.6,2614.6 613.9,2616.0 615.2,2617.5 616.5,2619.0 617.8,2620.5 619.1,2622.0 620.4,2623.5 621.7,2625.0 622.9,2626.6 624.2,2628.1 625.4,2629.7 626.7,2631.2 627.9,2632.8 629.1,2634.4 630.4,2636.0 631.6,2637.5 632.8,2639.1 634.0,2640.7 635.2,2642.3 636.4,2643.9 637.5,2645.5 638.7,2647.2 639.9,2648.8 641.1,2650.4 642.3,2652.0 643.4,2653.6 644.6,2655.3 645.8,2656.9 646.9,2658.5 648.1,2660.2 649.3,2661.8 650.5,2663.4 651.6,2665.1 652.8,2666.7 654.0,2668.3 655.2,2669.9 656.3,2671.6 657.5,2673.2 658.7,2674.8 659.9,2676.4 661.1,2678.1 662.3,2679.7 663.5,2681.3 664.7,2682.9 665.9,2684.5 667.1,2686.1 668.3,2687.7 669.6,2689.3 670.8,2690.8 672.1,2692.4 673.3,2694.0 674.6,2695.5 675.9,2697.1 677.2,2698.6 678.5,2700.1 679.8,2701.7 681.1,2703.2 682.4,2704.7 683.8,2706.2 685.1,2707.7 686.5,2709.1 687.8,2710.6 689.2,2712.1 690.6,2713.5 692.0,2714.9 693.5,2716.4 694.9,2717.8 696.3,2719.2 697.8,2720.5 699.3,2721.9 700.7,2723.3 702.2,2724.6 703.7,2725.9 705.3,2727.2 706.8,2728.5 708.3,2729.8 709.9,2731.1 711.4,2732.3 713.0,2733.6 714.6,2734.8 716.2,2736.0 717.8,2737.2 719.4,2738.3 721.0,2739.5 722.6,2740.6 724.3,2741.7 725.9,2742.8 727.6,2743.9 729.3,2744.9 731.0,2746.0 732.7,2747.0 734.4,2748.0 736.1,2749.0 737.9,2749.9 739.6,2750.9 741.4,2751.8 743.1,2752.7 744.9,2753.5 746.7,2754.4 748.5,2755.2 750.3,2756.0 752.1,2756.8 754.0,2757.6 755.8,2758.3 757.7,2759.0 759.5,2759.7 761.4,2760.4 763.3,2761.0 765.2,2761.6 767.1,2762.2 769.0,2762.8 770.9,2763.3 772.8,2763.9 774.8,2764.4 776.7,2764.9 778.6,2765.4 780.6,2765.9 782.6,2766.3 784.5,2766.8 786.5,2767.2 788.4,2767.7 790.4,2768.1 792.4,2768.5 794.3,2769.0 796.3,2769.4 798.3,2769.8 800.3,2770.2 802.2,2770.6 804.2,2771.0 806.2,2771.5 808.2,2771.9 810.1,2772.2 812.1,2772.6 814.1,2773.0 816.1,2773.4 818.0,2773.8 820.0,2774.1 822.0,2774.5 824.0,2774.8 825.9,2775.2 827.9,2775.5 829.9,2775.8 831.9,2776.1 833.8,2776.4 835.8,2776.7 837.8,2777.0 839.8,2777.3 841.8,2777.5 843.7,2777.8 845.7,2778.0 847.7,2778.2 849.7,2778.4 851.7,2778.6 853.7,2778.8 855.6,2778.9 857.6,2779.1 859.6,2779.2 861.6,2779.3 863.6,2779.4 865.5,2779.5 867.5,2779.6 869.5,2779.6 871.5,2779.7 873.5,2779.7 875.5,2779.7 877.5,2779.7 879.4,2779.7 881.4,2779.7 883.4,2779.7 885.4,2779.6 887.4,2779.6 889.4,2779.5 891.4,2779.4 893.3,2779.4 895.3,2779.3 897.3,2779.2 899.3,2779.1 901.3,2778.9 903.3,2778.8 905.3,2778.7 907.3,2778.5 909.2,2778.4 911.2,2778.2 913.2,2778.1 915.2,2777.9 917.2,2777.7 919.2,2777.6 921.2,2777.4 923.2,2777.2 925.2,2777.0 927.2,2776.8 929.2,2776.6 931.2,2776.4 933.1,2776.2 935.1,2776.0 937.1,2775.8 939.1,2775.5 941.1,2775.3 943.1,2775.1 945.1,2774.9 947.1,2774.7 949.1,2774.4 951.1,2774.2 953.1,2774.0 955.1,2773.8 957.1,2773.5 959.1,2773.3 961.1,2773.1 963.1,2772.9 965.1,2772.6 967.1,2772.4 969.1,2772.2 971.1,2772.0 973.1,2771.8 975.1,2771.6 977.1,2771.4 979.1,2771.2 981.1,2771.0 983.1,2770.8 985.1,2770.6 987.1,2770.4 989.1,2770.2 991.1,2770.0 993.1,2769.9 995.1,2769.7 997.1,2769.5 999.1,2769.4 1001.1,2769.2 1003.1,2769.1 1005.1,2768.9 1007.1,2768.8 1009.1,2768.6 1011.1,2768.5 1013.1,2768.4 1015.1,2768.3 1017.1,2768.1 1019.1,2768.0 1021.1,2767.9 1023.1,2767.8 1025.1,2767.8 1027.1,2767.7 1029.1,2767.6 1031.0,2767.5 1033.0,2767.5 1035.0,2767.4 1037.0,2767.4 1039.0,2767.3 1041.0,2767.3 1043.0,2767.3 1045.0,2767.3 1047.0,2767.3 1049.0,2767.3 1051.0,2767.3 1053.0,2767.3 1055.0,2767.3 1057.0,2767.3 1059.0,2767.4 1061.0,2767.4 1062.9,2767.5 1064.9,2767.6 1066.9,2767.7 1068.9,2767.8 1070.9,2767.9 1072.9,2768.0 1074.9,2768.1 1076.9,2768.2 1078.8,2768.4 1080.8,2768.5 1082.8,2768.7 1084.8,2768.9 1086.8,2769.0 1088.7,2769.2 1090.7,2769.4 1092.7,2769.7 1094.7,2769.9 1096.6,2770.1 1098.6,2770.4 1100.6,2770.7 1102.6,2770.9 1104.5,2771.2 1106.5,2771.5 1108.5,2771.8 1110.4,2772.2 1112.4,2772.5 1114.4,2772.9 1116.3,2773.2 1118.3,2773.6 1120.3,2774.0 1122.2,2774.4 1124.2,2774.8 1126.1,2775.2 1128.1,2775.6 1130.1,2776.1 1132.0,2776.5 1134.0,2776.9 1135.9,2777.3 1137.9,2777.8 1139.9,2778.2 1141.8,2778.7 1143.8,2779.1 1145.7,2779.5 1147.7,2779.9 1149.7,2780.4 1151.6,2780.8 1153.6,2781.2 1155.5,2781.6 1157.5,2781.9 1159.5,2782.3 1161.4,2782.7 1163.4,2783.0 1165.4,2783.4 1167.3,2783.7 1169.3,2784.0 1171.3,2784.3 1173.3,2784.6 1175.2,2784.9 1177.2,2785.2 1179.2,2785.5 1181.1,2785.7 1183.1,2786.0 1185.1,2786.3 1187.1,2786.6 1189.0,2786.8 1191.0,2787.1 1193.0,2787.4 1195.0,2787.7 1196.9,2788.0 1198.9,2788.3 1200.9,2788.6 1202.8,2788.9 1204.8,2789.3 1206.8,2789.6 1208.7,2790.0 1210.7,2790.4 1212.6,2790.8 1214.6,2791.2 1216.5,2791.6 1218.5,2792.1 1220.4,2792.6 1222.4,2793.1 1224.3,2793.6 1226.2,2794.1 1228.2,2794.6 1230.1,2795.1 1232.1,2795.6 1234.0,2796.2 1235.9,2796.7 1237.9,2797.2 1239.8,2797.8 1241.7,2798.3 1243.7,2798.8 1245.6,2799.4 1247.6,2799.9 1249.5,2800.4 1251.4,2800.9 1253.4,2801.4 1255.3,2801.9 1257.3,2802.3 1259.2,2802.8 1261.2,2803.2 1263.1,2803.6 1265.1,2804.0 1267.1,2804.3 1269.0,2804.7 1271.0,2805.0 1273.0,2805.3 1274.9,2805.6 1276.9,2805.8 1278.9,2806.1 1280.9,2806.3 1282.8,2806.6 1284.8,2806.8 1286.8,2807.0 1288.8,2807.1 1290.8,2807.3 1292.8,2807.5 1294.8,2807.6 1296.8,2807.8 1298.8,2807.9 1300.8,2808.0 1302.8,2808.1 1304.7,2808.3 1306.7,2808.4 1308.7,2808.5 1310.7,2808.6 1312.7,2808.7 1314.7,2808.8 1316.7,2808.9 1318.7,2809.0 1320.7,2809.1 1322.7,2809.1 1324.7,2809.2 1326.7,2809.3 1328.7,2809.4 1330.7,2809.5 1332.7,2809.6 1334.7,2809.7 1336.7,2809.8 1338.7,2809.9 1340.7,2809.9 1342.7,2810.0 1344.7,2810.1 1346.7,2810.2 1348.7,2810.3 1350.7,2810.3 1352.7,2810.4 1354.7,2810.5 1356.7,2810.6 1358.7,2810.6 1360.7,2810.7 1362.7,2810.8 1364.7,2810.9 1366.7,2810.9 1368.7,2811.0 1370.7,2811.1 1372.7,2811.1 1374.7,2811.2 1376.7,2811.2 1378.7,2811.3 1380.7,2811.4 1382.7,2811.4 1384.7,2811.5 1386.7,2811.6 1388.7,2811.6 1390.7,2811.7 1392.7,2811.7 1394.7,2811.8 1396.7,2811.8 1398.7,2811.9 1400.7,2811.9 1402.7,2812.0 1404.7,2812.0 1406.7,2812.1 1408.7,2812.1 1410.7,2812.2 1412.7,2812.2 1414.7,2812.3 1416.7,2812.3 1418.7,2812.4 1420.7,2812.4 1422.7,2812.5 1424.7,2812.5 1426.7,2812.5 1428.7,2812.6 1430.6,2812.6 1432.6,2812.7 1434.6,2812.7 1436.6,2812.7 1438.6,2812.8 1440.6,2812.8 1442.6,2812.8 1444.6,2812.9 1446.6,2812.9 1448.6,2812.9 1450.6,2813.0 1452.6,2813.0 1454.6,2813.0 1456.6,2813.1 1458.6,2813.1 1460.6,2813.1 1462.6,2813.1 1464.6,2813.2 1466.6,2813.2 1468.6,2813.2 1470.6,2813.3 1472.6,2813.3 1474.6,2813.3 1476.6,2813.3 1478.6,2813.3 1480.6,2813.4 1482.6,2813.4 1484.6,2813.4 1486.6,2813.4 1488.6,2813.4 1490.6,2813.5 1492.6,2813.5 1494.6,2813.5 1496.6,2813.5 1498.6,2813.5 1500.6,2813.5 1502.6,2813.6 1504.6,2813.6 1506.6,2813.6 1508.6,2813.6 1510.6,2813.6 1512.6,2813.6 1514.6,2813.6 1516.6,2813.7 1518.6,2813.7 1520.6,2813.7 1522.6,2813.7 1524.6,2813.7 1526.6,2813.7 1528.6,2813.7 1530.6,2813.7 1532.6,2813.7 1534.6,2813.7 1536.6,2813.7 1538.6,2813.7 1540.6,2813.8 1542.6,2813.8 1544.6,2813.8 1546.6,2813.8 1548.6,2813.8 1550.6,2813.8 1552.6,2813.8 1554.6,2813.8 1556.6,2813.8 1558.6,2813.8 1560.6,2813.8 1562.6,2813.8 1564.6,2813.8 1566.6,2813.8 1568.6,2813.8 1570.6,2813.8 1572.6,2813.8 1574.6,2813.8 1576.6,2813.8 1578.6,2813.8 1580.6,2813.8 1582.6,2813.8 1584.6,2813.8 1586.6,2813.8 1588.6,2813.8 1590.6,2813.8 1592.6,2813.8 1594.6,2813.8 1596.6,2813.8 1598.6,2813.8 1600.6,2813.8 1602.6,2813.8 1604.6,2813.8 1606.6,2813.8 1608.6,2813.8 1610.6,2813.7 1612.6,2813.7 1614.6,2813.7 1616.6,2813.7 1618.6,2813.7 1620.6,2813.7 1622.6,2813.7 1624.6,2813.7 1626.6,2813.7 1628.6,2813.7 1630.6,2813.7 1632.6,2813.7 1634.6,2813.7 1636.6,2813.7 1638.6,2813.7 1640.6,2813.7 1642.6,2813.7 1644.6,2813.7 1646.6,2813.6 1648.6,2813.6 1650.6,2813.6 1652.6,2813.6 1654.6,2813.6 1656.6,2813.6 1658.6,2813.6 1660.6,2813.6 1662.6,2813.6 1664.6,2813.6 1666.6,2813.6 1668.6,2813.6 1670.6,2813.6 1672.6,2813.6 1674.6,2813.6 1676.6,2813.6 1678.6,2813.5 1680.6,2813.5 1682.6,2813.5 1684.6,2813.5 1686.6,2813.5 1688.6,2813.5 1690.6,2813.5 1692.6,2813.5 1694.6,2813.5 1696.6,2813.5 1698.6,2813.5 1700.6,2813.5 1702.6,2813.5 1704.6,2813.5 1706.6,2813.5 1708.6,2813.5 1710.6,2813.5 1712.6,2813.5 1714.6,2813.5 1716.6,2813.5 1718.6,2813.5 1720.6,2813.4 1722.6,2813.4 1724.6,2813.4 1726.6,2813.4 1728.6,2813.4 1730.6,2813.4 1732.6,2813.4 1734.6,2813.4 1736.6,2813.4 1738.6,2813.4 1740.6,2813.4 1742.6,2813.4 1744.6,2813.4 1746.6,2813.4 1748.6,2813.4 1750.6,2813.4 1752.6,2813.4 1754.6,2813.4 1756.6,2813.4 1758.6,2813.4 1760.6,2813.4 1762.6,2813.4 1764.6,2813.5 1766.6,2813.5 1768.6,2813.5 1770.6,2813.5 1772.6,2813.5 1774.6,2813.5 1776.6,2813.5 1778.6,2813.5 1780.6,2813.5 1782.6,2813.5 1784.6,2813.5 1786.6,2813.5 1788.6,2813.5 1790.6,2813.5 1792.6,2813.5 1794.6,2813.6 1796.6,2813.6 1798.6,2813.6 1800.6,2813.6 1802.6,2813.6 1804.6,2813.6 1806.6,2813.6 1808.6,2813.6 1810.6,2813.7 1812.6,2813.7 1814.6,2813.7 1816.5,2813.7 1818.5,2813.7 1820.5,2813.7 1822.5,2813.8 1824.5,2813.8 1826.5,2813.8 1828.5,2813.8 1830.5,2813.8 1832.5,2813.9 1834.5,2813.9 1836.5,2813.9 1838.5,2813.9 1840.5,2813.9 1842.5,2814.0 1844.5,2814.0 1846.5,2814.0 1848.5,2814.0 1850.5,2814.1 1852.5,2814.1 1854.5,2814.1 1856.5,2814.1 1858.5,2814.2 1860.5,2814.2 1862.5,2814.2 1864.5,2814.3 1866.5,2814.3 1868.5,2814.3 1870.5,2814.4 1872.5,2814.4 1874.5,2814.4 1876.5,2814.5 1878.5,2814.5 1880.5,2814.5 1882.5,2814.6 1884.5,2814.6 1886.5,2814.7 1888.5,2814.7 1890.5,2814.7 1892.5,2814.8 1894.5,2814.8 1896.5,2814.9 1898.5,2814.9 1900.5,2815.0 1902.5,2815.0 1904.5,2815.1 1906.5,2815.1 1908.5,2815.2 1910.5,2815.2 1912.5,2815.3 1914.5,2815.3 1916.5,2815.4 1918.5,2815.4 1920.5,2815.5 1922.5,2815.5" stroke="#0000ff" stroke-width="6"/>
<path d="M300.7,2296.0 301.1,2294.1 301.5,2292.1 301.9,2290.2 302.4,2288.2 302.8,2286.3 303.2,2284.3 303.6,2282.4 304.0,2280.4 304.4,2278.4 304.8,2276.5 305.2,2274.5 305.6,2272.6 306.0,2270.6 306.3,2268.7 306.7,2266.7 307.1,2264.7 307.5,2262.8 307.8,2260.8 308.2,2258.8 308.5,2256.9 308.9,2254.9 309.2,2253.0 309.6,2251.0 309.9,2249.0 310.2,2247.0 310.6,2245.1 310.9,2243.1 311.2,2241.1 311.5,2239.2 311.9,2237.2 312.2,2235.2 312.5,2233.2 312.8,2231.3 313.1,2229.3 313.4,2227.3 313.7,2225.3 314.0,2223.4 314.3,2221.4 314.6,2219.4 314.8,2217.4 315.1,2215.4 315.4,2213.5 315.7,2211.5 316.0,2209.5 316.2,2207.5 316.5,2205.5 316.8,2203.6 317.0,2201.6 317.3,2199.6 317.5,2197.6 317.8,2195.6 318.0,2193.6 318.3,2191.7 318.5,2189.7 318.8,2187.7 319.0,2185.7 319.3,2183.7 319.5,2181.7 319.7,2179.7 320.0,2177.7 320.2,2175.8 320.4,2173.8 320.7,2171.8 320.9,2169.8 321.1,2167.8 321.3,2165.8 321.6,2163.8 321.8,2161.8 322.0,2159.9 322.2,2157.9 322.4,2155.9 322.6,2153.9 322.8,2151.9 323.0,2149.9 323.2,2147.9 323.5,2145.9 323.7,2143.9 323.9,2141.9 324.1,2140.0 324.3,2138.0 324.5,2136.0 324.7,2134.0 324.8,2132.0 325.0,2130.0 325.2,2128.0 325.4,2126.0 325.6,2124.0 325.8,2122.1 326.0,2120.1 326.2,2118.1 326.4,2116.1 326.6,2114.1 326.8,2112.1 326.9,2110.1 327.1,2108.1 327.3,2106.1 327.5,2104.2 327.7,2102.2 327.8,2100.2 328.0,2098.2 328.2,2096.2 328.4,2094.2 328.6,2092.2 328.7,2090.2 328.9,2088.2 329.1,2086.3 329.3,2084.3 329.4,2082.3 329.6,2080.3 329.8,2078.3 329.9,2076.3 330.1,2074.3 330.3,2072.3 330.5,2070.4 330.6,2068.4 330.8,2066.4 331.0,2064.4 331.1,2062.4 331.3,2060.4 331.4,2058.4 331.6,2056.4 331.8,2054.4 331.9,2052.5 332.1,2050.5 332.2,2048.5 332.4,2046.5 332.6,2044.5 332.7,2042.5 332.9,2040.5 333.0,2038.5 333.2,2036.5 333.3,2034.6 333.5,2032.6 333.6,2030.6 333.8,2028.6 334.0,2026.6 334.1,2024.6 334.3,2022.6 334.4,2020.6 334.6,2018.6 334.7,2016.6 334.8,2014.7 335.0,2012.7 335.1,2010.7 335.3,2008.7 335.4,2006.7 335.6,2004.7 335.7,2002.7 335.9,2000.7 336.0,1998.7 336.1,1996.7 336.3,1994.7 336.4,1992.7 336.6,1990.7 336.7,1988.7 336.9,1986.8 337.0,1984.8 337.1,1982.8 337.3,1980.8 337.4,1978.8 337.5,1976.8 337.7,1974.8 337.8,1972.8 337.9,1970.8 338.1,1968.8 338.2,1966.8 338.4,1964.8 338.5,1962.8 338.6,1960.8 338.8,1958.8 338.9,1956.8 339.0,1954.8 339.1,1952.8 339.3,1950.8 339.4,1948.8 339.5,1946.8 339.7,1944.8 339.8,1942.8 339.9,1940.8 340.1,1938.8 340.2,1936.8 340.3,1934.8 340.4,1932.8 340.6,1930.8 340.7,1928.8 340.8,1926.8 341.0,1924.8 341.1,1922.8 341.2,1920.8 341.3,1918.8 341.5,1916.8 341.6,1914.8 341.7,1912.8 341.9,1910.8 342.0,1908.8 342.1,1906.8 342.2,1904.8 342.4,1902.8 342.5,1900.8 342.6,1898.8 342.7,1896.8 342.9,1894.8 343.0,1892.8 343.1,1890.8 343.3,1888.8 343.4,1886.8 343.5,1884.8 343.6,1882.8 343.8,1880.8 343.9,1878.8 344.0,1876.8 344.2,1874.8 344.3,1872.8 344.4,1870.8 344.6,1868.8 344.7,1866.8 344.8,1864.8 345.0,1862.8 345.1,1860.9 345.2,1858.9 345.3,1856.9 345.5,1854.9 345.6,1852.9 345.7,1850.9 345.9,1848.9 346.0,1846.9 346.2,1844.9 346.3,1842.9 346.4,1841.0 346.6,1839.0 346.7,1837.0 346.8,1835.0 347.0,1833.0 347.1,1831.0 347.3,1829.1 347.4,1827.1 347.5,1825.1 347.7,1823.1 347.8,1821.1 348.0,1819.2 348.1,1817.2 348.3,1815.2 348.4,1813.2 348.6,1811.3 348.7,1809.3 348.9,1807.3 349.0,1805.3 349.2,1803.4 349.3,1801.4 349.5,1799.4 349.6,1797.5 349.8,1795.5 349.9,1793.5 350.1,1791.6 350.2,1789.6 350.4,1787.6 350.5,1785.7 350.7,1783.7 350.9,1781.8 351.0,1779.8 351.2,1777.8 351.3,1775.9 351.5,1773.9 351.7,1772.0 351.9,1770.0 352.0,1768.0 352.2,1766.0 352.4,1764.0 352.6,1761.9 352.8,1759.8 353.1,1757.6 353.3,1755.4 353.6,1753.1 353.9,1750.7 354.2,1748.2 354.6,1745.7 355.0,1743.1 355.4,1740.6 355.8,1738.3 356.2,1736.1 356.7,1734.1 357.2,1732.5 357.7,1731.3 358.3,1730.5 358.8,1730.2 359.4,1730.5 359.9,1731.3 360.5,1732.6 361.1,1734.2 361.7,1736.1 362.2,1738.1 362.7,1740.2 363.2,1742.2 363.7,1744.3 364.1,1746.4 364.5,1748.4 364.9,1750.4 365.2,1752.5 365.6,1754.5 365.9,1756.6 366.2,1758.6 366.4,1760.6 366.7,1762.6 366.9,1764.7 367.2,1766.7 367.4,1768.7 367.6,1770.7 367.8,1772.7 368.0,1774.7 368.2,1776.7 368.4,1778.7 368.5,1780.7 368.7,1782.7 368.9,1784.7 369.1,1786.7 369.3,1788.7 369.5,1790.7 369.6,1792.6 369.9,1794.6 370.1,1796.6 370.3,1798.6 370.5,1800.6 370.8,1802.5 371.0,1804.5 371.3,1806.5 371.6,1808.4 371.9,1810.4 372.2,1812.4 372.5,1814.4 372.8,1816.3 373.1,1818.3 373.4,1820.3 373.7,1822.2 374.0,1824.2 374.3,1826.2 374.6,1828.1 374.9,1830.1 375.2,1832.1 375.5,1834.1 375.8,1836.0 376.1,1838.0 376.4,1840.0 376.7,1842.0 377.0,1843.9 377.3,1845.9 377.5,1847.9 377.8,1849.9 378.1,1851.9 378.4,1853.8 378.6,1855.8 378.9,1857.8 379.2,1859.8 379.4,1861.8 379.7,1863.7 380.0,1865.7 380.2,1867.7 380.5,1869.7 380.8,1871.7 381.0,1873.7 381.3,1875.7 381.6,1877.6 381.8,1879.6 382.1,1881.6 382.4,1883.6 382.6,1885.6 382.9,1887.6 383.1,1889.6 383.4,1891.5 383.7,1893.5 383.9,1895.5 384.2,1897.5 384.5,1899.5 384.7,1901.5 385.0,1903.4 385.3,1905.4 385.6,1907.4 385.8,1909.4 386.1,1911.4 386.4,1913.4 386.7,1915.3 387.0,1917.3 387.2,1919.3 387.5,1921.3 387.8,1923.3 388.1,1925.2 388.4,1927.2 388.7,1929.2 389.0,1931.2 389.3,1933.1 389.6,1935.1 389.9,1937.1 390.3,1939.1 390.6,1941.0 390.9,1943.0 391.2,1945.0 391.5,1947.0 391.9,1948.9 392.2,1950.9 392.6,1952.8 392.9,1954.8 393.3,1956.8 393.6,1958.7 394.0,1960.7 394.3,1962.7 394.7,1964.6 395.1,1966.6 395.5,1968.5 395.8,1970.5 396.2,1972.4 396.6,1974.4 397.0,1976.3 397.4,1978.3 397.9,1980.2 398.3,1982.2 398.7,1984.1 399.1,1986.0 399.6,1988.0 400.0,1989.9 400.5,1991.9 400.9,1993.8 401.4,1995.7 401.9,1997.7 402.3,1999.6 402.8,2001.5 403.3,2003.5 403.8,2005.4 404.3,2007.3 404.8,2009.3 405.3,2011.2 405.9,2013.1 406.4,2015.1 406.9,2017.0 407.5,2018.9 408.0,2020.9 408.6,2022.8 409.1,2024.8 409.7,2026.7 410.3,2028.7 410.9,2030.6 411.4,2032.6 412.0,2034.5 412.6,2036.5 413.3,2038.4 413.9,2040.4 414.6,2042.3 415.3,2044.2 416.0,2046.1 416.8,2048.0 417.7,2049.8 418.6,2051.6 419.6,2053.4 420.7,2055.1 421.9,2056.7 423.1,2058.3 424.5,2059.9 425.9,2061.3 427.5,2062.6 429.1,2063.6 430.7,2064.5 432.5,2065.0 434.2,2065.2 436.0,2065.1 437.8,2064.6 439.5,2063.9 441.3,2063.0 443.0,2061.9 444.6,2060.5 446.1,2059.1 447.6,2057.5 448.9,2055.8 450.3,2054.1 451.6,2052.3 452.9,2050.6 454.3,2049.0 455.8,2047.4 457.4,2046.0 459.1,2044.8 460.9,2043.8 462.7,2042.9 464.6,2042.2 466.5,2041.6 468.4,2041.3 470.3,2041.2 472.1,2041.2 473.9,2041.5 475.5,2042.0 477.0,2042.7 478.4,2043.7 479.7,2044.8 480.8,2046.2 481.7,2047.7 482.6,2049.4 483.4,2051.2 484.1,2053.2 484.7,2055.2 485.3,2057.3 485.8,2059.5 486.2,2061.7 486.7,2063.9 487.1,2066.1 487.6,2068.2 488.0,2070.3 488.5,2072.4 489.0,2074.4 489.5,2076.4 490.0,2078.3 490.5,2080.2 491.1,2082.1 491.6,2084.0 492.1,2085.9 492.6,2087.7 493.1,2089.6 493.6,2091.5 494.1,2093.4 494.6,2095.2 495.1,2097.1 495.6,2099.0 496.0,2100.9 496.5,2102.8 496.9,2104.7 497.4,2106.7 497.8,2108.6 498.3,2110.5 498.7,2112.4 499.1,2114.4 499.6,2116.3 500.0,2118.2 500.4,2120.2 500.8,2122.1 501.2,2124.1 501.7,2126.0 502.1,2128.0 502.5,2129.9 502.9,2131.9 503.3,2133.9 503.7,2135.8 504.1,2137.8 504.5,2139.8 505.0,2141.7 505.4,2143.7 505.8,2145.7 506.2,2147.6 506.6,2149.6 507.0,2151.6 507.5,2153.5 507.9,2155.5 508.3,2157.5 508.7,2159.5 509.2,2161.4 509.6,2163.4 510.1,2165.4 510.5,2167.3 511.0,2169.3 511.4,2171.2 511.9,2173.2 512.4,2175.2 512.9,2177.1 513.4,2179.1 513.9,2181.0 514.4,2183.0 514.9,2184.9 515.4,2186.9 516.0,2188.8 516.5,2190.7 517.0,2192.7 517.6,2194.6 518.2,2196.5 518.8,2198.4 519.4,2200.3 520.0,2202.2 520.6,2204.1 521.2,2206.0 521.8,2207.9 522.5,2209.8 523.2,2211.7 523.8,2213.6 524.5,2215.4 525.3,2217.3 526.0,2219.2 526.7,2221.0 527.5,2222.8 528.2,2224.7 529.0,2226.5 529.8,2228.3 530.6,2230.1 531.5,2231.9 532.3,2233.7 533.2,2235.5 534.1,2237.3 535.0,2239.1 535.9,2240.8 536.8,2242.6 537.8,2244.3 538.8,2246.0 539.8,2247.8 540.8,2249.5 541.8,2251.2 542.9,2252.9 543.9,2254.6 545.0,2256.2 546.1,2257.9 547.2,2259.6 548.3,2261.2 549.4,2262.9 550.6,2264.5 551.7,2266.1 552.9,2267.8 554.1,2269.4 555.3,2271.0 556.5,2272.6 557.7,2274.2 558.9,2275.7 560.2,2277.3 561.4,2278.9 562.7,2280.4 563.9,2282.0 565.2,2283.5 566.5,2285.1 567.7,2286.6 569.0,2288.1 570.3,2289.7 571.6,2291.2 572.9,2292.7 574.1,2294.3 575.4,2295.8 576.7,2297.3 577.9,2298.9 579.1,2300.5 580.4,2302.0 581.6,2303.6 582.7,2305.2 583.9,2306.8 585.1,2308.4 586.2,2310.0 587.3,2311.7 588.4,2313.3 589.5,2315.0 590.6,2316.7 591.6,2318.3 592.7,2320.0 593.7,2321.7 594.7,2323.4 595.7,2325.2 596.7,2326.9 597.7,2328.6 598.7,2330.4 599.6,2332.1 600.6,2333.9 601.5,2335.6 602.4,2337.4 603.3,2339.2 604.2,2341.0 605.1,2342.8 606.0,2344.6 606.9,2346.4 607.8,2348.2 608.6,2350.0 609.5,2351.8 610.3,2353.6 611.1,2355.5 612.0,2357.3 612.8,2359.1 613.6,2361.0 614.4,2362.8 615.2,2364.7 616.0,2366.5 616.8,2368.4 617.6,2370.2 618.4,2372.1 619.1,2373.9 619.9,2375.8 620.7,2377.6 621.5,2379.5 622.2,2381.3 623.0,2383.2 623.8,2385.0 624.5,2386.9 625.3,2388.7 626.0,2390.6 626.8,2392.4 627.6,2394.3 628.3,2396.2 629.1,2398.0 629.8,2399.9 630.6,2401.7 631.3,2403.6 632.0,2405.4 632.8,2407.3 633.5,2409.1 634.3,2411.0 635.0,2412.8 635.7,2414.7 636.5,2416.6 637.2,2418.4 637.9,2420.3 638.7,2422.1 639.4,2424.0 640.1,2425.8 640.9,2427.7 641.6,2429.5 642.3,2431.4 643.1,2433.3 643.8,2435.1 644.5,2437.0 645.3,2438.8 646.0,2440.7 646.7,2442.5 647.5,2444.4 648.2,2446.2 648.9,2448.1 649.7,2449.9 650.4,2451.8 651.1,2453.6 651.9,2455.5 652.6,2457.3 653.4,2459.2 654.1,2461.0 654.8,2462.9 655.6,2464.7 656.3,2466.6 657.1,2468.4 657.8,2470.3 658.6,2472.1 659.3,2474.0 660.1,2475.8 660.8,2477.7 661.6,2479.5 662.3,2481.3 663.1,2483.2 663.9,2485.0 664.6,2486.9 665.4,2488.7 666.2,2490.5 666.9,2492.4 667.7,2494.2 668.5,2496.1 669.3,2497.9 670.0,2499.7 670.8,2501.6 671.6,2503.4 672.4,2505.2 673.2,2507.1 674.0,2508.9 674.8,2510.7 675.6,2512.6 676.4,2514.4 677.3,2516.2 678.1,2518.1 678.9,2519.9 679.7,2521.7 680.5,2523.5 681.4,2525.4 682.2,2527.2 683.1,2529.0 683.9,2530.8 684.8,2532.6 685.6,2534.5 686.5,2536.3 687.4,2538.1 688.2,2539.9 689.1,2541.7 690.0,2543.5 690.9,2545.3 691.8,2547.1 692.7,2548.9 693.6,2550.7 694.5,2552.5 695.5,2554.2 696.4,2556.0 697.4,2557.8 698.3,2559.5 699.3,2561.3 700.3,2563.0 701.2,2564.8 702.2,2566.5 703.2,2568.3 704.3,2570.0 705.3,2571.7 706.3,2573.4 707.4,2575.1 708.4,2576.8 709.5,2578.5 710.5,2580.2 711.6,2581.9 712.7,2583.5 713.9,2585.2 715.0,2586.8 716.1,2588.5 717.3,2590.1 718.4,2591.7 719.6,2593.3 720.8,2594.9 722.0,2596.5 723.2,2598.1 724.4,2599.6 725.7,2601.2 726.9,2602.7 728.2,2604.2 729.5,2605.8 730.8,2607.3 732.1,2608.8 733.4,2610.3 734.8,2611.7 736.1,2613.2 737.5,2614.7 738.8,2616.1 740.2,2617.5 741.6,2619.0 743.0,2620.4 744.4,2621.8 745.9,2623.2 747.3,2624.5 748.8,2625.9 750.2,2627.3 751.7,2628.6 753.2,2629.9 754.7,2631.3 756.2,2632.6 757.7,2633.9 759.2,2635.2 760.8,2636.4 762.3,2637.7 763.9,2638.9 765.4,2640.2 767.0,2641.4 768.6,2642.6 770.2,2643.8 771.8,2645.0 773.4,2646.2 775.1,2647.4 776.7,2648.5 778.4,2649.7 780.0,2650.8 781.7,2651.9 783.3,2653.0 785.0,2654.1 786.7,2655.2 788.4,2656.3 790.1,2657.3 791.8,2658.4 793.6,2659.4 795.3,2660.4 797.0,2661.4 798.8,2662.4 800.5,2663.4 802.3,2664.4 804.1,2665.3 805.8,2666.2 807.6,2667.2 809.4,2668.1 811.2,2668.9 813.0,2669.8 814.8,2670.7 816.6,2671.5 818.5,2672.3 820.3,2673.1 822.1,2673.9 824.0,2674.7 825.8,2675.5 827.7,2676.2 829.6,2677.0 831.4,2677.7 833.3,2678.4 835.2,2679.0 837.1,2679.7 838.9,2680.3 840.8,2681.0 842.7,2681.6 844.6,2682.2 846.6,2682.7 848.5,2683.3 850.4,2683.8 852.3,2684.3 854.2,2684.8 856.2,2685.3 858.1,2685.7 860.1,2686.2 862.0,2686.6 864.0,2687.0 865.9,2687.4 867.9,2687.8 869.8,2688.1 871.8,2688.5 873.8,2688.8 875.7,2689.1 877.7,2689.4 879.7,2689.7 881.6,2689.9 883.6,2690.2 885.6,2690.4 887.6,2690.7 889.6,2690.9 891.6,2691.1 893.6,2691.2 895.6,2691.4 897.6,2691.6 899.6,2691.7 901.5,2691.9 903.5,2692.0 905.5,2692.1 907.6,2692.2 909.6,2692.3 911.6,2692.4 913.6,2692.5 915.6,2692.6 917.6,2692.7 919.6,2692.7 921.6,2692.8 923.6,2692.8 925.6,2692.9 927.6,2692.9 929.6,2692.9 931.6,2692.9 933.6,2692.9 935.6,2693.0 937.6,2693.0 939.6,2693.0 941.6,2693.0 943.6,2693.0 945.6,2692.9 947.6,2692.9 949.6,2692.9 951.6,2692.9 953.6,2692.9 955.6,2692.9 957.6,2692.8 959.6,2692.8 961.6,2692.8 963.6,2692.8 965.6,2692.8 967.6,2692.7 969.6,2692.7 971.6,2692.7 973.6,2692.7 975.6,2692.7 977.6,2692.7 979.6,2692.7 981.6,2692.7 983.6,2692.7 985.6,2692.7 987.6,2692.7 989.6,2692.8 991.5,2692.8 993.5,2692.8 995.5,2692.9 997.5,2692.9 999.5,2693.0 1001.5,2693.1 1003.5,2693.1 1005.5,2693.2 1007.5,2693.3 1009.5,2693.4 1011.5,2693.5 1013.4,2693.7 1015.4,2693.8 1017.4,2693.9 1019.4,2694.1 1021.4,2694.3 1023.4,2694.5 1025.4,2694.7 1027.4,2694.9 1029.4,2695.1 1031.3,2695.3 1033.3,2695.6 1035.3,2695.8 1037.3,2696.1 1039.3,2696.3 1041.3,2696.6 1043.2,2696.9 1045.2,2697.2 1047.2,2697.5 1049.2,2697.9 1051.2,2698.2 1053.1,2698.6 1055.1,2698.9 1057.1,2699.3 1059.0,2699.7 1061.0,2700.1 1063.0,2700.5 1064.9,2700.9 1066.9,2701.3 1068.8,2701.7 1070.8,2702.2 1072.7,2702.6 1074.7,2703.1 1076.6,2703.6 1078.6,2704.1 1080.5,2704.5 1082.5,2705.1 1084.4,2705.6 1086.3,2706.1 1088.3,2706.6 1090.2,2707.2 1092.1,2707.7 1094.0,2708.3 1095.9,2708.8 1097.8,2709.4 1099.8,2710.0 1101.7,2710.6 1103.6,2711.2 1105.5,2711.8 1107.4,2712.4 1109.3,2713.0 1111.2,2713.6 1113.1,2714.2 1115.0,2714.8 1116.9,2715.4 1118.8,2716.1 1120.7,2716.7 1122.6,2717.3 1124.5,2717.9 1126.4,2718.5 1128.3,2719.1 1130.2,2719.8 1132.1,2720.4 1134.0,2721.0 1135.9,2721.6 1137.8,2722.1 1139.7,2722.7 1141.6,2723.3 1143.5,2723.9 1145.4,2724.5 1147.3,2725.0 1149.2,2725.6 1151.1,2726.1 1153.0,2726.7 1155.0,2727.2 1156.9,2727.8 1158.8,2728.3 1160.7,2728.8 1162.6,2729.4 1164.5,2730.0 1166.5,2730.5 1168.4,2731.1 1170.3,2731.7 1172.2,2732.3 1174.1,2732.9 1176.0,2733.5 1177.9,2734.1 1179.8,2734.8 1181.7,2735.4 1183.6,2736.1 1185.5,2736.8 1187.3,2737.4 1189.2,2738.1 1191.1,2738.8 1193.0,2739.5 1194.9,2740.2 1196.7,2740.9 1198.6,2741.6 1200.5,2742.3 1202.4,2743.1 1204.2,2743.8 1206.1,2744.5 1208.0,2745.2 1209.9,2745.9 1211.8,2746.6 1213.6,2747.3 1215.5,2748.0 1217.4,2748.7 1219.3,2749.4 1221.2,2750.1 1223.0,2750.7 1224.9,2751.4 1226.8,2752.0 1228.7,2752.7 1230.6,2753.3 1232.5,2753.9 1234.4,2754.5 1236.3,2755.1 1238.2,2755.7 1240.1,2756.2 1242.0,2756.8 1244.0,2757.3 1245.9,2757.8 1247.8,2758.3 1249.7,2758.7 1251.7,2759.2 1253.6,2759.6 1255.5,2760.0 1257.5,2760.4 1259.4,2760.8 1261.4,2761.1 1263.4,2761.5 1265.3,2761.8 1267.3,2762.1 1269.2,2762.4 1271.2,2762.7 1273.2,2763.0 1275.2,2763.2 1277.1,2763.5 1279.1,2763.7 1281.1,2763.9 1283.1,2764.1 1285.1,2764.3 1287.1,2764.5 1289.1,2764.7 1291.1,2764.9 1293.1,2765.0 1295.1,2765.2 1297.0,2765.3 1299.0,2765.5 1301.0,2765.6 1303.0,2765.8 1305.1,2765.9 1307.1,2766.0 1309.1,2766.1 1311.1,2766.2 1313.1,2766.3 1315.1,2766.4 1317.1,2766.5 1319.1,2766.6 1321.1,2766.7 1323.1,2766.8 1325.1,2766.9 1327.1,2767.0 1329.1,2767.1 1331.1,2767.2 1333.1,2767.3 1335.1,2767.4 1337.1,2767.5 1339.1,2767.7 1341.1,2767.8 1343.1,2767.9 1345.1,2768.0 1347.1,2768.1 1349.1,2768.2 1351.1,2768.3 1353.1,2768.4 1355.1,2768.5 1357.1,2768.6 1359.1,2768.7 1361.1,2768.8 1363.1,2768.9 1365.1,2769.0 1367.1,2769.1 1369.1,2769.2 1371.1,2769.3 1373.1,2769.4 1375.1,2769.5 1377.1,2769.6 1379.1,2769.7 1381.1,2769.9 1383.1,2770.0 1385.1,2770.1 1387.1,2770.2 1389.1,2770.3 1391.1,2770.4 1393.1,2770.5 1395.0,2770.6 1397.0,2770.7 1399.0,2770.8 1401.0,2770.9 1403.0,2771.0 1405.0,2771.1 1407.0,2771.2 1409.0,2771.3 1411.0,2771.4 1413.0,2771.5 1415.0,2771.6 1417.0,2771.7 1419.0,2771.8 1421.0,2771.9 1423.0,2772.0 1425.0,2772.1 1426.9,2772.2 1428.9,2772.3 1430.9,2772.4 1432.9,2772.4 1434.9,2772.5 1436.9,2772.6 1438.9,2772.7 1440.9,2772.8 1442.9,2772.9 1444.9,2773.0 1446.9,2773.1 1448.9,2773.1 1450.9,2773.2 1452.9,2773.3 1454.9,2773.4 1456.9,2773.5 1458.9,2773.5 1460.9,2773.6 1462.8,2773.7 1464.8,2773.8 1466.8,2773.9 1468.8,2773.9 1470.8,2774.0 1472.8,2774.1 1474.8,2774.2 1476.8,2774.2 1478.8,2774.3 1480.8,2774.4 1482.8,2774.4 1484.8,2774.5 1486.8,2774.6 1488.8,2774.6 1490.8,2774.7 1492.8,2774.8 1494.8,2774.8 1496.8,2774.9 1498.8,2775.0 1500.8,2775.0 1502.8,2775.1 1504.8,2775.1 1506.8,2775.2 1508.8,2775.3 1510.8,2775.3 1512.8,2775.4 1514.8,2775.4 1516.8,2775.5 1518.8,2775.5 1520.8,2775.6 1522.8,2775.7 1524.7,2775.7 1526.7,2775.8 1528.7,2775.8 1530.7,2775.9 1532.7,2775.9 1534.7,2776.0 1536.7,2776.0 1538.7,2776.1 1540.7,2776.1 1542.7,2776.2 1544.7,2776.2 1546.7,2776.3 1548.7,2776.3 1550.7,2776.3 1552.7,2776.4 1554.7,2776.4 1556.7,2776.5 1558.7,2776.5 1560.7,2776.6 1562.7,2776.6 1564.7,2776.6 1566.7,2776.7 1568.7,2776.7 1570.7,2776.8 1572.7,2776.8 1574.7,2776.8 1576.7,2776.9 1578.7,2776.9 1580.7,2776.9 1582.7,2777.0 1584.7,2777.0 1586.7,2777.1 1588.7,2777.1 1590.7,2777.1 1592.7,2777.2 1594.7,2777.2 1596.7,2777.2 1598.7,2777.3 1600.7,2777.3 1602.7,2777.3 1604.7,2777.3 1606.7,2777.4 1608.7,2777.4 1610.7,2777.4 1612.7,2777.5 1614.7,2777.5 1616.7,2777.5 1618.7,2777.5 1620.7,2777.6 1622.7,2777.6 1624.7,2777.6 1626.7,2777.6 1628.7,2777.7 1630.7,2777.7 1632.7,2777.7 1634.7,2777.7 1636.7,2777.8 1638.7,2777.8 1640.7,2777.8 1642.7,2777.8 1644.7,2777.9 1646.7,2777.9 1648.7,2777.9 1650.7,2777.9 1652.7,2777.9 1654.7,2778.0 1656.7,2778.0 1658.7,2778.0 1660.7,2778.0 1662.7,2778.0 1664.7,2778.1 1666.7,2778.1 1668.7,2778.1 1670.7,2778.1 1672.7,2778.1 1674.7,2778.1 1676.7,2778.2 1678.7,2778.2 1680.7,2778.2 1682.7,2778.2 1684.7,2778.2 1686.7,2778.2 1688.7,2778.3 1690.7,2778.3 1692.7,2778.3 1694.7,2778.3 1696.7,2778.3 1698.7,2778.3 1700.7,2778.3 1702.7,2778.4 1704.7,2778.4 1706.7,2778.4 1708.7,2778.4 1710.7,2778.4 1712.7,2778.4 1714.7,2778.4 1716.7,2778.5 1718.7,2778.5 1720.7,2778.5 1722.7,2778.5 1724.7,2778.5 1726.7,2778.5 1728.7,2778.5 1730.7,2778.5 1732.7,2778.6 1734.7,2778.6 1736.7,2778.6 1738.7,2778.6 1740.7,2778.6 1742.7,2778.6 1744.7,2778.6 1746.7,2778.6 1748.7,2778.6 1750.7,2778.7 1752.7,2778.7 1754.7,2778.7 1756.7,2778.7 1758.7,2778.7 1760.7,2778.7 1762.7,2778.7 1764.7,2778.7 1766.7,2778.7 1768.7,2778.8 1770.7,2778.8 1772.7,2778.8 1774.7,2778.8 1776.7,2778.8 1778.7,2778.8 1780.7,2778.8 1782.7,2778.8 1784.7,2778.8 1786.7,2778.8 1788.7,2778.9 1790.7,2778.9 1792.7,2778.9 1794.7,2778.9 1796.7,2778.9 1798.7,2778.9 1800.7,2778.9 1802.7,2778.9 1804.7,2779.0 1806.7,2779.0 1808.7,2779.0 1810.7,2779.0 1812.7,2779.0 1814.7,2779.0 1816.7,2779.0 1818.7,2779.0 1820.7,2779.0 1822.7,2779.1 1824.7,2779.1 1826.7,2779.1 1828.7,2779.1 1830.7,2779.1 1832.7,2779.1 1834.7,2779.1 1836.7,2779.2 1838.7,2779.2 1840.7,2779.2 1842.7,2779.2 1844.7,2779.2 1846.7,2779.2 1848.7,2779.2 1850.7,2779.3 1852.7,2779.3 1854.7,2779.3 1856.7,2779.3 1858.7,2779.3 1860.7,2779.3 1862.6,2779.4 1864.6,2779.4 1866.6,2779.4 1868.6,2779.4 1870.6,2779.4 1872.6,2779.4 1874.6,2779.5 1876.6,2779.5 1878.6,2779.5 1880.6,2779.5 1882.6,2779.5 1884.6,2779.6 1886.6,2779.6 1888.6,2779.6 1890.6,2779.6 1892.6,2779.6 1894.6,2779.7 1896.6,2779.7 1898.6,2779.7 1900.6,2779.7 1902.6,2779.7 1904.6,2779.8 1906.5,2779.8 1908.5,2779.8 1910.5,2779.8 1912.5,2779.9 1914.5,2779.9 1916.5,2779.9 1918.5,2779.9 1920.5,2780.0 1922.5,2780.0" stroke="#808000" stroke-width="6.2" stroke-dasharray="10 16.8" stroke-linecap="round"/>
</g>
<text x="166.9" y="2843.3" font-size="77">0.0</text>
<text x="167.0" y="2694.4" font-size="77">0.5</text>
<text x="166.9" y="2545.6" font-size="77">1.0</text>
<text x="167.0" y="2396.7" font-size="77">1.5</text>
<text x="166.9" y="2247.8" font-size="77">2.0</text>
<text x="167.0" y="2098.9" font-size="77">2.5</text>
<text x="166.9" y="1950.0" font-size="77">3.0</text>
<text x="167.1" y="1801.2" font-size="77">3.5</text>
<text x="166.9" y="1652.3" font-size="77">4.0</text>
<text x="459.8" y="2906.2" font-size="77">300</text>
<text x="740.1" y="2906.2" font-size="77">400</text>
<text x="1019.4" y="2906.2" font-size="77">500</text>
<text x="1299.0" y="2906.2" font-size="77">600</text>
<text x="1579.0" y="2906.2" font-size="77">700</text>
<text x="1858.1" y="2906.2" font-size="77">800</text>
<text x="17.6" y="1665.7" font-size="108" textLength="144.2" lengthAdjust="spacing">(B)</text>
<text transform="translate(125.1,2600.1) rotate(-90)" x="0" y="0" font-size="105" textLength="836.7" lengthAdjust="spacing">Absorbance(a. u.)</text>
<text x="726.9" y="3019.9" font-size="106" textLength="773.1" lengthAdjust="spacing">Wavelength(nm)</text>
<path d="M1053.9,1712H1203.2" stroke="#0000ff" stroke-width="6" fill="none"/>
<text x="1216.4" y="1732.7" font-size="65" textLength="653.8" lengthAdjust="spacing">LHNPs@DOX in water</text>
<path d="M1057.0,1789.8H1199.4" stroke="#808000" stroke-width="6.2" stroke-dasharray="10 16.8" stroke-linecap="round" fill="none"/>
<text x="1216.4" y="1812.0" font-size="65" textLength="618.9" lengthAdjust="spacing">LHNPs@DOX in THF</text>
<path d="M569.7,2003L472.7,1962.7V1996.6" stroke="#000" stroke-width="1.7" fill="none" stroke-linejoin="miter"/>
<path d="M464.4,1996.6L481.0,1996.6L472.7,2027.4Z" fill="#000"/>
<text x="518.2" y="1986.8" font-size="53">282nm</text>
<path d="M594.7,2452L497.4,2411V2445.8" stroke="#000" stroke-width="1.7" fill="none" stroke-linejoin="miter"/>
<path d="M488.9,2445.8L505.9,2445.8L497.4,2476.6Z" fill="#000"/>
<text x="502.1" y="2500.0" font-size="53">290nm</text>
<path d="M1135.4,2663.6L1038.2,2623V2657.2" stroke="#000" stroke-width="1.7" fill="none" stroke-linejoin="miter"/>
<path d="M1029.4,2657.2L1047.0,2657.2L1038.2,2687.6Z" fill="#000"/>
<text x="1073.8" y="2625.3" font-size="53">482nm</text>
</g>
</svg>
</body></html>
